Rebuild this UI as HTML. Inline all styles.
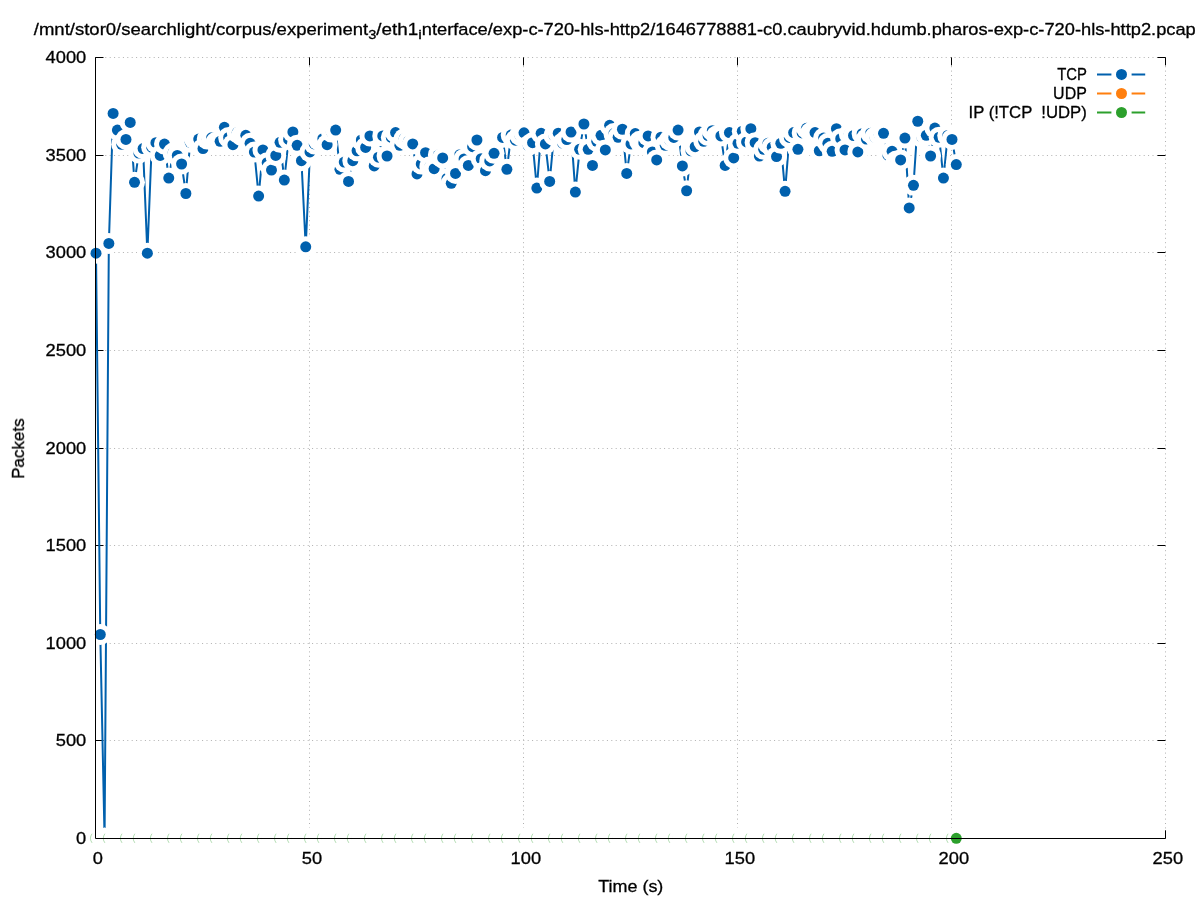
<!DOCTYPE html><html><head><meta charset="utf-8"><style>html,body{margin:0;padding:0;background:#fff;overflow:hidden}svg{display:block}text{font-family:"Liberation Sans",sans-serif;fill:#000;stroke:#000;stroke-width:0.3px}</style></head><body>
<svg width="1197" height="900" viewBox="0 0 1197 900">
<rect width="1197" height="900" fill="#fff"/>
<path d="M96.5 740.5H1165.5 M96.5 643.5H1165.5 M96.5 545.5H1165.5 M96.5 448.5H1165.5 M96.5 350.5H1165.5 M96.5 252.5H1165.5 M96.5 155.5H1165.5 M96.5 57.5H1165.5 M309.5 57.4V837.3 M523.5 57.4V837.3 M737.5 57.4V837.3 M951.5 57.4V837.3 M1165.5 57.4V837.3" stroke="#b0b0b0" stroke-width="1" stroke-dasharray="1 3.4" fill="none"/>
<path d="M95.5 838.5h8M1165.5 838.5h-8M95.5 740.5h8M1165.5 740.5h-8M95.5 643.5h8M1165.5 643.5h-8M95.5 545.5h8M1165.5 545.5h-8M95.5 448.5h8M1165.5 448.5h-8M95.5 350.5h8M1165.5 350.5h-8M95.5 252.5h8M1165.5 252.5h-8M95.5 155.5h8M1165.5 155.5h-8M95.5 57.5h8M1165.5 57.5h-8M95.5 838.3v-8M95.5 57.4v8M309.5 838.3v-8M309.5 57.4v8M523.5 838.3v-8M523.5 57.4v8M737.5 838.3v-8M737.5 57.4v8M951.5 838.3v-8M951.5 57.4v8M1165.5 838.3v-8M1165.5 57.4v8" stroke="#000" stroke-width="1" fill="none"/>
<polyline points="96.00,253.23 100.28,634.49 104.56,838.30 108.84,243.46 113.12,113.45 117.40,130.04 121.68,144.29 125.96,139.41 130.24,122.43 134.52,182.36 138.80,153.08 143.08,148.59 147.36,253.23 151.64,147.22 155.92,142.73 160.20,155.42 164.48,144.10 168.76,178.07 173.04,153.08 177.32,155.42 181.60,164.01 185.88,193.49 190.16,142.34 194.44,139.02 198.72,139.02 203.00,148.59 207.28,139.02 211.56,137.85 215.84,142.34 220.12,141.36 224.40,127.31 228.68,137.46 232.96,144.68 237.24,132.58 241.52,135.51 245.80,135.31 250.08,143.32 254.36,152.10 258.64,196.03 262.92,149.95 267.20,162.64 271.48,170.06 275.76,155.42 280.04,142.34 284.32,180.02 288.60,139.41 292.88,131.99 297.16,145.27 301.44,160.69 305.72,246.78 310.00,151.91 314.28,143.90 318.56,140.00 322.84,138.63 327.12,144.68 331.40,131.99 335.68,130.04 339.96,169.28 344.24,162.06 348.52,181.38 352.80,160.69 357.08,150.74 361.36,140.00 365.64,147.42 369.92,135.90 374.20,165.96 378.48,157.18 382.76,135.90 387.04,156.01 391.32,137.46 395.60,132.58 399.88,145.27 404.16,138.63 408.44,141.36 412.72,143.90 417.00,173.97 421.28,164.01 425.56,152.69 429.84,166.74 434.12,168.70 438.40,155.03 442.68,157.96 446.96,178.46 451.24,183.34 455.52,173.38 459.80,154.64 464.08,158.93 468.36,165.38 472.64,146.64 476.92,140.00 481.20,158.74 485.48,170.65 489.76,160.89 494.04,153.27 498.32,137.46 502.60,137.46 506.88,169.28 511.16,135.12 515.44,140.19 519.72,135.12 524.00,132.77 528.28,145.66 532.56,142.73 536.84,188.02 541.12,133.36 545.40,143.90 549.68,181.38 553.96,135.51 558.24,133.17 562.52,143.12 566.80,139.61 571.08,131.99 575.36,192.12 579.64,149.37 583.92,123.99 588.20,149.37 592.48,165.38 596.76,141.36 601.04,135.31 605.32,149.95 609.60,125.36 613.88,133.56 618.16,137.26 622.44,129.26 626.72,173.38 631.00,143.90 635.28,133.56 639.56,141.36 643.84,142.73 648.12,135.90 652.40,151.91 656.68,159.91 660.96,137.26 665.24,145.27 669.52,140.00 673.80,137.46 678.08,130.04 682.36,165.96 686.64,190.76 690.92,150.74 695.20,146.64 699.48,131.99 703.76,141.36 708.04,135.51 712.32,130.63 716.60,135.90 720.88,135.90 725.16,165.38 729.44,132.58 733.72,157.96 738.00,143.32 742.28,131.21 746.56,141.95 750.84,128.68 755.12,142.73 759.40,156.01 763.68,149.37 767.96,143.32 772.24,147.22 776.52,156.59 780.80,143.32 785.08,191.34 789.36,137.46 793.64,132.58 797.92,149.37 802.20,132.97 806.48,128.28 810.76,132.58 815.04,132.58 819.32,150.74 823.60,138.05 827.88,143.32 832.16,151.32 836.44,128.68 840.72,138.63 845.00,149.95 849.28,133.95 853.56,135.51 857.84,151.91 862.12,133.75 866.40,139.02 870.68,133.17 874.96,137.07 879.24,134.53 883.52,133.36 887.80,155.03 892.08,151.32 896.36,160.89 900.64,159.91 904.92,138.05 909.20,207.93 913.48,185.29 917.76,121.26 922.04,137.46 926.32,135.31 930.60,156.01 934.88,128.09 939.16,137.26 943.44,178.07 947.72,135.51 952.00,139.41 956.28,164.60" stroke="#0060ad" stroke-width="2.0" fill="none" stroke-linejoin="miter"/>
<path d="M96.00 838.30H956.28" stroke="#ff7f0e" stroke-width="2.0"/>
<path d="M96.00 838.30H956.28" stroke="#2ca02c" stroke-width="2.0"/>
<circle cx="96.00" cy="253.23" r="10.5" fill="#fff"/><circle cx="96.00" cy="253.23" r="5.5" fill="#0060ad"/>
<circle cx="100.28" cy="634.49" r="10.5" fill="#fff"/><circle cx="100.28" cy="634.49" r="5.5" fill="#0060ad"/>
<circle cx="104.56" cy="838.30" r="10.5" fill="#fff"/><circle cx="104.56" cy="838.30" r="5.5" fill="#0060ad"/>
<circle cx="108.84" cy="243.46" r="10.5" fill="#fff"/><circle cx="108.84" cy="243.46" r="5.5" fill="#0060ad"/>
<circle cx="113.12" cy="113.45" r="10.5" fill="#fff"/><circle cx="113.12" cy="113.45" r="5.5" fill="#0060ad"/>
<circle cx="117.40" cy="130.04" r="10.5" fill="#fff"/><circle cx="117.40" cy="130.04" r="5.5" fill="#0060ad"/>
<circle cx="121.68" cy="144.29" r="10.5" fill="#fff"/><circle cx="121.68" cy="144.29" r="5.5" fill="#0060ad"/>
<circle cx="125.96" cy="139.41" r="10.5" fill="#fff"/><circle cx="125.96" cy="139.41" r="5.5" fill="#0060ad"/>
<circle cx="130.24" cy="122.43" r="10.5" fill="#fff"/><circle cx="130.24" cy="122.43" r="5.5" fill="#0060ad"/>
<circle cx="134.52" cy="182.36" r="10.5" fill="#fff"/><circle cx="134.52" cy="182.36" r="5.5" fill="#0060ad"/>
<circle cx="138.80" cy="153.08" r="10.5" fill="#fff"/><circle cx="138.80" cy="153.08" r="5.5" fill="#0060ad"/>
<circle cx="143.08" cy="148.59" r="10.5" fill="#fff"/><circle cx="143.08" cy="148.59" r="5.5" fill="#0060ad"/>
<circle cx="147.36" cy="253.23" r="10.5" fill="#fff"/><circle cx="147.36" cy="253.23" r="5.5" fill="#0060ad"/>
<circle cx="151.64" cy="147.22" r="10.5" fill="#fff"/><circle cx="151.64" cy="147.22" r="5.5" fill="#0060ad"/>
<circle cx="155.92" cy="142.73" r="10.5" fill="#fff"/><circle cx="155.92" cy="142.73" r="5.5" fill="#0060ad"/>
<circle cx="160.20" cy="155.42" r="10.5" fill="#fff"/><circle cx="160.20" cy="155.42" r="5.5" fill="#0060ad"/>
<circle cx="164.48" cy="144.10" r="10.5" fill="#fff"/><circle cx="164.48" cy="144.10" r="5.5" fill="#0060ad"/>
<circle cx="168.76" cy="178.07" r="10.5" fill="#fff"/><circle cx="168.76" cy="178.07" r="5.5" fill="#0060ad"/>
<circle cx="173.04" cy="153.08" r="10.5" fill="#fff"/><circle cx="173.04" cy="153.08" r="5.5" fill="#0060ad"/>
<circle cx="177.32" cy="155.42" r="10.5" fill="#fff"/><circle cx="177.32" cy="155.42" r="5.5" fill="#0060ad"/>
<circle cx="181.60" cy="164.01" r="10.5" fill="#fff"/><circle cx="181.60" cy="164.01" r="5.5" fill="#0060ad"/>
<circle cx="185.88" cy="193.49" r="10.5" fill="#fff"/><circle cx="185.88" cy="193.49" r="5.5" fill="#0060ad"/>
<circle cx="190.16" cy="142.34" r="10.5" fill="#fff"/><circle cx="190.16" cy="142.34" r="5.5" fill="#0060ad"/>
<circle cx="194.44" cy="139.02" r="10.5" fill="#fff"/><circle cx="194.44" cy="139.02" r="5.5" fill="#0060ad"/>
<circle cx="198.72" cy="139.02" r="10.5" fill="#fff"/><circle cx="198.72" cy="139.02" r="5.5" fill="#0060ad"/>
<circle cx="203.00" cy="148.59" r="10.5" fill="#fff"/><circle cx="203.00" cy="148.59" r="5.5" fill="#0060ad"/>
<circle cx="207.28" cy="139.02" r="10.5" fill="#fff"/><circle cx="207.28" cy="139.02" r="5.5" fill="#0060ad"/>
<circle cx="211.56" cy="137.85" r="10.5" fill="#fff"/><circle cx="211.56" cy="137.85" r="5.5" fill="#0060ad"/>
<circle cx="215.84" cy="142.34" r="10.5" fill="#fff"/><circle cx="215.84" cy="142.34" r="5.5" fill="#0060ad"/>
<circle cx="220.12" cy="141.36" r="10.5" fill="#fff"/><circle cx="220.12" cy="141.36" r="5.5" fill="#0060ad"/>
<circle cx="224.40" cy="127.31" r="10.5" fill="#fff"/><circle cx="224.40" cy="127.31" r="5.5" fill="#0060ad"/>
<circle cx="228.68" cy="137.46" r="10.5" fill="#fff"/><circle cx="228.68" cy="137.46" r="5.5" fill="#0060ad"/>
<circle cx="232.96" cy="144.68" r="10.5" fill="#fff"/><circle cx="232.96" cy="144.68" r="5.5" fill="#0060ad"/>
<circle cx="237.24" cy="132.58" r="10.5" fill="#fff"/><circle cx="237.24" cy="132.58" r="5.5" fill="#0060ad"/>
<circle cx="241.52" cy="135.51" r="10.5" fill="#fff"/><circle cx="241.52" cy="135.51" r="5.5" fill="#0060ad"/>
<circle cx="245.80" cy="135.31" r="10.5" fill="#fff"/><circle cx="245.80" cy="135.31" r="5.5" fill="#0060ad"/>
<circle cx="250.08" cy="143.32" r="10.5" fill="#fff"/><circle cx="250.08" cy="143.32" r="5.5" fill="#0060ad"/>
<circle cx="254.36" cy="152.10" r="10.5" fill="#fff"/><circle cx="254.36" cy="152.10" r="5.5" fill="#0060ad"/>
<circle cx="258.64" cy="196.03" r="10.5" fill="#fff"/><circle cx="258.64" cy="196.03" r="5.5" fill="#0060ad"/>
<circle cx="262.92" cy="149.95" r="10.5" fill="#fff"/><circle cx="262.92" cy="149.95" r="5.5" fill="#0060ad"/>
<circle cx="267.20" cy="162.64" r="10.5" fill="#fff"/><circle cx="267.20" cy="162.64" r="5.5" fill="#0060ad"/>
<circle cx="271.48" cy="170.06" r="10.5" fill="#fff"/><circle cx="271.48" cy="170.06" r="5.5" fill="#0060ad"/>
<circle cx="275.76" cy="155.42" r="10.5" fill="#fff"/><circle cx="275.76" cy="155.42" r="5.5" fill="#0060ad"/>
<circle cx="280.04" cy="142.34" r="10.5" fill="#fff"/><circle cx="280.04" cy="142.34" r="5.5" fill="#0060ad"/>
<circle cx="284.32" cy="180.02" r="10.5" fill="#fff"/><circle cx="284.32" cy="180.02" r="5.5" fill="#0060ad"/>
<circle cx="288.60" cy="139.41" r="10.5" fill="#fff"/><circle cx="288.60" cy="139.41" r="5.5" fill="#0060ad"/>
<circle cx="292.88" cy="131.99" r="10.5" fill="#fff"/><circle cx="292.88" cy="131.99" r="5.5" fill="#0060ad"/>
<circle cx="297.16" cy="145.27" r="10.5" fill="#fff"/><circle cx="297.16" cy="145.27" r="5.5" fill="#0060ad"/>
<circle cx="301.44" cy="160.69" r="10.5" fill="#fff"/><circle cx="301.44" cy="160.69" r="5.5" fill="#0060ad"/>
<circle cx="305.72" cy="246.78" r="10.5" fill="#fff"/><circle cx="305.72" cy="246.78" r="5.5" fill="#0060ad"/>
<circle cx="310.00" cy="151.91" r="10.5" fill="#fff"/><circle cx="310.00" cy="151.91" r="5.5" fill="#0060ad"/>
<circle cx="314.28" cy="143.90" r="10.5" fill="#fff"/><circle cx="314.28" cy="143.90" r="5.5" fill="#0060ad"/>
<circle cx="318.56" cy="140.00" r="10.5" fill="#fff"/><circle cx="318.56" cy="140.00" r="5.5" fill="#0060ad"/>
<circle cx="322.84" cy="138.63" r="10.5" fill="#fff"/><circle cx="322.84" cy="138.63" r="5.5" fill="#0060ad"/>
<circle cx="327.12" cy="144.68" r="10.5" fill="#fff"/><circle cx="327.12" cy="144.68" r="5.5" fill="#0060ad"/>
<circle cx="331.40" cy="131.99" r="10.5" fill="#fff"/><circle cx="331.40" cy="131.99" r="5.5" fill="#0060ad"/>
<circle cx="335.68" cy="130.04" r="10.5" fill="#fff"/><circle cx="335.68" cy="130.04" r="5.5" fill="#0060ad"/>
<circle cx="339.96" cy="169.28" r="10.5" fill="#fff"/><circle cx="339.96" cy="169.28" r="5.5" fill="#0060ad"/>
<circle cx="344.24" cy="162.06" r="10.5" fill="#fff"/><circle cx="344.24" cy="162.06" r="5.5" fill="#0060ad"/>
<circle cx="348.52" cy="181.38" r="10.5" fill="#fff"/><circle cx="348.52" cy="181.38" r="5.5" fill="#0060ad"/>
<circle cx="352.80" cy="160.69" r="10.5" fill="#fff"/><circle cx="352.80" cy="160.69" r="5.5" fill="#0060ad"/>
<circle cx="357.08" cy="150.74" r="10.5" fill="#fff"/><circle cx="357.08" cy="150.74" r="5.5" fill="#0060ad"/>
<circle cx="361.36" cy="140.00" r="10.5" fill="#fff"/><circle cx="361.36" cy="140.00" r="5.5" fill="#0060ad"/>
<circle cx="365.64" cy="147.42" r="10.5" fill="#fff"/><circle cx="365.64" cy="147.42" r="5.5" fill="#0060ad"/>
<circle cx="369.92" cy="135.90" r="10.5" fill="#fff"/><circle cx="369.92" cy="135.90" r="5.5" fill="#0060ad"/>
<circle cx="374.20" cy="165.96" r="10.5" fill="#fff"/><circle cx="374.20" cy="165.96" r="5.5" fill="#0060ad"/>
<circle cx="378.48" cy="157.18" r="10.5" fill="#fff"/><circle cx="378.48" cy="157.18" r="5.5" fill="#0060ad"/>
<circle cx="382.76" cy="135.90" r="10.5" fill="#fff"/><circle cx="382.76" cy="135.90" r="5.5" fill="#0060ad"/>
<circle cx="387.04" cy="156.01" r="10.5" fill="#fff"/><circle cx="387.04" cy="156.01" r="5.5" fill="#0060ad"/>
<circle cx="391.32" cy="137.46" r="10.5" fill="#fff"/><circle cx="391.32" cy="137.46" r="5.5" fill="#0060ad"/>
<circle cx="395.60" cy="132.58" r="10.5" fill="#fff"/><circle cx="395.60" cy="132.58" r="5.5" fill="#0060ad"/>
<circle cx="399.88" cy="145.27" r="10.5" fill="#fff"/><circle cx="399.88" cy="145.27" r="5.5" fill="#0060ad"/>
<circle cx="404.16" cy="138.63" r="10.5" fill="#fff"/><circle cx="404.16" cy="138.63" r="5.5" fill="#0060ad"/>
<circle cx="408.44" cy="141.36" r="10.5" fill="#fff"/><circle cx="408.44" cy="141.36" r="5.5" fill="#0060ad"/>
<circle cx="412.72" cy="143.90" r="10.5" fill="#fff"/><circle cx="412.72" cy="143.90" r="5.5" fill="#0060ad"/>
<circle cx="417.00" cy="173.97" r="10.5" fill="#fff"/><circle cx="417.00" cy="173.97" r="5.5" fill="#0060ad"/>
<circle cx="421.28" cy="164.01" r="10.5" fill="#fff"/><circle cx="421.28" cy="164.01" r="5.5" fill="#0060ad"/>
<circle cx="425.56" cy="152.69" r="10.5" fill="#fff"/><circle cx="425.56" cy="152.69" r="5.5" fill="#0060ad"/>
<circle cx="429.84" cy="166.74" r="10.5" fill="#fff"/><circle cx="429.84" cy="166.74" r="5.5" fill="#0060ad"/>
<circle cx="434.12" cy="168.70" r="10.5" fill="#fff"/><circle cx="434.12" cy="168.70" r="5.5" fill="#0060ad"/>
<circle cx="438.40" cy="155.03" r="10.5" fill="#fff"/><circle cx="438.40" cy="155.03" r="5.5" fill="#0060ad"/>
<circle cx="442.68" cy="157.96" r="10.5" fill="#fff"/><circle cx="442.68" cy="157.96" r="5.5" fill="#0060ad"/>
<circle cx="446.96" cy="178.46" r="10.5" fill="#fff"/><circle cx="446.96" cy="178.46" r="5.5" fill="#0060ad"/>
<circle cx="451.24" cy="183.34" r="10.5" fill="#fff"/><circle cx="451.24" cy="183.34" r="5.5" fill="#0060ad"/>
<circle cx="455.52" cy="173.38" r="10.5" fill="#fff"/><circle cx="455.52" cy="173.38" r="5.5" fill="#0060ad"/>
<circle cx="459.80" cy="154.64" r="10.5" fill="#fff"/><circle cx="459.80" cy="154.64" r="5.5" fill="#0060ad"/>
<circle cx="464.08" cy="158.93" r="10.5" fill="#fff"/><circle cx="464.08" cy="158.93" r="5.5" fill="#0060ad"/>
<circle cx="468.36" cy="165.38" r="10.5" fill="#fff"/><circle cx="468.36" cy="165.38" r="5.5" fill="#0060ad"/>
<circle cx="472.64" cy="146.64" r="10.5" fill="#fff"/><circle cx="472.64" cy="146.64" r="5.5" fill="#0060ad"/>
<circle cx="476.92" cy="140.00" r="10.5" fill="#fff"/><circle cx="476.92" cy="140.00" r="5.5" fill="#0060ad"/>
<circle cx="481.20" cy="158.74" r="10.5" fill="#fff"/><circle cx="481.20" cy="158.74" r="5.5" fill="#0060ad"/>
<circle cx="485.48" cy="170.65" r="10.5" fill="#fff"/><circle cx="485.48" cy="170.65" r="5.5" fill="#0060ad"/>
<circle cx="489.76" cy="160.89" r="10.5" fill="#fff"/><circle cx="489.76" cy="160.89" r="5.5" fill="#0060ad"/>
<circle cx="494.04" cy="153.27" r="10.5" fill="#fff"/><circle cx="494.04" cy="153.27" r="5.5" fill="#0060ad"/>
<circle cx="498.32" cy="137.46" r="10.5" fill="#fff"/><circle cx="498.32" cy="137.46" r="5.5" fill="#0060ad"/>
<circle cx="502.60" cy="137.46" r="10.5" fill="#fff"/><circle cx="502.60" cy="137.46" r="5.5" fill="#0060ad"/>
<circle cx="506.88" cy="169.28" r="10.5" fill="#fff"/><circle cx="506.88" cy="169.28" r="5.5" fill="#0060ad"/>
<circle cx="511.16" cy="135.12" r="10.5" fill="#fff"/><circle cx="511.16" cy="135.12" r="5.5" fill="#0060ad"/>
<circle cx="515.44" cy="140.19" r="10.5" fill="#fff"/><circle cx="515.44" cy="140.19" r="5.5" fill="#0060ad"/>
<circle cx="519.72" cy="135.12" r="10.5" fill="#fff"/><circle cx="519.72" cy="135.12" r="5.5" fill="#0060ad"/>
<circle cx="524.00" cy="132.77" r="10.5" fill="#fff"/><circle cx="524.00" cy="132.77" r="5.5" fill="#0060ad"/>
<circle cx="528.28" cy="145.66" r="10.5" fill="#fff"/><circle cx="528.28" cy="145.66" r="5.5" fill="#0060ad"/>
<circle cx="532.56" cy="142.73" r="10.5" fill="#fff"/><circle cx="532.56" cy="142.73" r="5.5" fill="#0060ad"/>
<circle cx="536.84" cy="188.02" r="10.5" fill="#fff"/><circle cx="536.84" cy="188.02" r="5.5" fill="#0060ad"/>
<circle cx="541.12" cy="133.36" r="10.5" fill="#fff"/><circle cx="541.12" cy="133.36" r="5.5" fill="#0060ad"/>
<circle cx="545.40" cy="143.90" r="10.5" fill="#fff"/><circle cx="545.40" cy="143.90" r="5.5" fill="#0060ad"/>
<circle cx="549.68" cy="181.38" r="10.5" fill="#fff"/><circle cx="549.68" cy="181.38" r="5.5" fill="#0060ad"/>
<circle cx="553.96" cy="135.51" r="10.5" fill="#fff"/><circle cx="553.96" cy="135.51" r="5.5" fill="#0060ad"/>
<circle cx="558.24" cy="133.17" r="10.5" fill="#fff"/><circle cx="558.24" cy="133.17" r="5.5" fill="#0060ad"/>
<circle cx="562.52" cy="143.12" r="10.5" fill="#fff"/><circle cx="562.52" cy="143.12" r="5.5" fill="#0060ad"/>
<circle cx="566.80" cy="139.61" r="10.5" fill="#fff"/><circle cx="566.80" cy="139.61" r="5.5" fill="#0060ad"/>
<circle cx="571.08" cy="131.99" r="10.5" fill="#fff"/><circle cx="571.08" cy="131.99" r="5.5" fill="#0060ad"/>
<circle cx="575.36" cy="192.12" r="10.5" fill="#fff"/><circle cx="575.36" cy="192.12" r="5.5" fill="#0060ad"/>
<circle cx="579.64" cy="149.37" r="10.5" fill="#fff"/><circle cx="579.64" cy="149.37" r="5.5" fill="#0060ad"/>
<circle cx="583.92" cy="123.99" r="10.5" fill="#fff"/><circle cx="583.92" cy="123.99" r="5.5" fill="#0060ad"/>
<circle cx="588.20" cy="149.37" r="10.5" fill="#fff"/><circle cx="588.20" cy="149.37" r="5.5" fill="#0060ad"/>
<circle cx="592.48" cy="165.38" r="10.5" fill="#fff"/><circle cx="592.48" cy="165.38" r="5.5" fill="#0060ad"/>
<circle cx="596.76" cy="141.36" r="10.5" fill="#fff"/><circle cx="596.76" cy="141.36" r="5.5" fill="#0060ad"/>
<circle cx="601.04" cy="135.31" r="10.5" fill="#fff"/><circle cx="601.04" cy="135.31" r="5.5" fill="#0060ad"/>
<circle cx="605.32" cy="149.95" r="10.5" fill="#fff"/><circle cx="605.32" cy="149.95" r="5.5" fill="#0060ad"/>
<circle cx="609.60" cy="125.36" r="10.5" fill="#fff"/><circle cx="609.60" cy="125.36" r="5.5" fill="#0060ad"/>
<circle cx="613.88" cy="133.56" r="10.5" fill="#fff"/><circle cx="613.88" cy="133.56" r="5.5" fill="#0060ad"/>
<circle cx="618.16" cy="137.26" r="10.5" fill="#fff"/><circle cx="618.16" cy="137.26" r="5.5" fill="#0060ad"/>
<circle cx="622.44" cy="129.26" r="10.5" fill="#fff"/><circle cx="622.44" cy="129.26" r="5.5" fill="#0060ad"/>
<circle cx="626.72" cy="173.38" r="10.5" fill="#fff"/><circle cx="626.72" cy="173.38" r="5.5" fill="#0060ad"/>
<circle cx="631.00" cy="143.90" r="10.5" fill="#fff"/><circle cx="631.00" cy="143.90" r="5.5" fill="#0060ad"/>
<circle cx="635.28" cy="133.56" r="10.5" fill="#fff"/><circle cx="635.28" cy="133.56" r="5.5" fill="#0060ad"/>
<circle cx="639.56" cy="141.36" r="10.5" fill="#fff"/><circle cx="639.56" cy="141.36" r="5.5" fill="#0060ad"/>
<circle cx="643.84" cy="142.73" r="10.5" fill="#fff"/><circle cx="643.84" cy="142.73" r="5.5" fill="#0060ad"/>
<circle cx="648.12" cy="135.90" r="10.5" fill="#fff"/><circle cx="648.12" cy="135.90" r="5.5" fill="#0060ad"/>
<circle cx="652.40" cy="151.91" r="10.5" fill="#fff"/><circle cx="652.40" cy="151.91" r="5.5" fill="#0060ad"/>
<circle cx="656.68" cy="159.91" r="10.5" fill="#fff"/><circle cx="656.68" cy="159.91" r="5.5" fill="#0060ad"/>
<circle cx="660.96" cy="137.26" r="10.5" fill="#fff"/><circle cx="660.96" cy="137.26" r="5.5" fill="#0060ad"/>
<circle cx="665.24" cy="145.27" r="10.5" fill="#fff"/><circle cx="665.24" cy="145.27" r="5.5" fill="#0060ad"/>
<circle cx="669.52" cy="140.00" r="10.5" fill="#fff"/><circle cx="669.52" cy="140.00" r="5.5" fill="#0060ad"/>
<circle cx="673.80" cy="137.46" r="10.5" fill="#fff"/><circle cx="673.80" cy="137.46" r="5.5" fill="#0060ad"/>
<circle cx="678.08" cy="130.04" r="10.5" fill="#fff"/><circle cx="678.08" cy="130.04" r="5.5" fill="#0060ad"/>
<circle cx="682.36" cy="165.96" r="10.5" fill="#fff"/><circle cx="682.36" cy="165.96" r="5.5" fill="#0060ad"/>
<circle cx="686.64" cy="190.76" r="10.5" fill="#fff"/><circle cx="686.64" cy="190.76" r="5.5" fill="#0060ad"/>
<circle cx="690.92" cy="150.74" r="10.5" fill="#fff"/><circle cx="690.92" cy="150.74" r="5.5" fill="#0060ad"/>
<circle cx="695.20" cy="146.64" r="10.5" fill="#fff"/><circle cx="695.20" cy="146.64" r="5.5" fill="#0060ad"/>
<circle cx="699.48" cy="131.99" r="10.5" fill="#fff"/><circle cx="699.48" cy="131.99" r="5.5" fill="#0060ad"/>
<circle cx="703.76" cy="141.36" r="10.5" fill="#fff"/><circle cx="703.76" cy="141.36" r="5.5" fill="#0060ad"/>
<circle cx="708.04" cy="135.51" r="10.5" fill="#fff"/><circle cx="708.04" cy="135.51" r="5.5" fill="#0060ad"/>
<circle cx="712.32" cy="130.63" r="10.5" fill="#fff"/><circle cx="712.32" cy="130.63" r="5.5" fill="#0060ad"/>
<circle cx="716.60" cy="135.90" r="10.5" fill="#fff"/><circle cx="716.60" cy="135.90" r="5.5" fill="#0060ad"/>
<circle cx="720.88" cy="135.90" r="10.5" fill="#fff"/><circle cx="720.88" cy="135.90" r="5.5" fill="#0060ad"/>
<circle cx="725.16" cy="165.38" r="10.5" fill="#fff"/><circle cx="725.16" cy="165.38" r="5.5" fill="#0060ad"/>
<circle cx="729.44" cy="132.58" r="10.5" fill="#fff"/><circle cx="729.44" cy="132.58" r="5.5" fill="#0060ad"/>
<circle cx="733.72" cy="157.96" r="10.5" fill="#fff"/><circle cx="733.72" cy="157.96" r="5.5" fill="#0060ad"/>
<circle cx="738.00" cy="143.32" r="10.5" fill="#fff"/><circle cx="738.00" cy="143.32" r="5.5" fill="#0060ad"/>
<circle cx="742.28" cy="131.21" r="10.5" fill="#fff"/><circle cx="742.28" cy="131.21" r="5.5" fill="#0060ad"/>
<circle cx="746.56" cy="141.95" r="10.5" fill="#fff"/><circle cx="746.56" cy="141.95" r="5.5" fill="#0060ad"/>
<circle cx="750.84" cy="128.68" r="10.5" fill="#fff"/><circle cx="750.84" cy="128.68" r="5.5" fill="#0060ad"/>
<circle cx="755.12" cy="142.73" r="10.5" fill="#fff"/><circle cx="755.12" cy="142.73" r="5.5" fill="#0060ad"/>
<circle cx="759.40" cy="156.01" r="10.5" fill="#fff"/><circle cx="759.40" cy="156.01" r="5.5" fill="#0060ad"/>
<circle cx="763.68" cy="149.37" r="10.5" fill="#fff"/><circle cx="763.68" cy="149.37" r="5.5" fill="#0060ad"/>
<circle cx="767.96" cy="143.32" r="10.5" fill="#fff"/><circle cx="767.96" cy="143.32" r="5.5" fill="#0060ad"/>
<circle cx="772.24" cy="147.22" r="10.5" fill="#fff"/><circle cx="772.24" cy="147.22" r="5.5" fill="#0060ad"/>
<circle cx="776.52" cy="156.59" r="10.5" fill="#fff"/><circle cx="776.52" cy="156.59" r="5.5" fill="#0060ad"/>
<circle cx="780.80" cy="143.32" r="10.5" fill="#fff"/><circle cx="780.80" cy="143.32" r="5.5" fill="#0060ad"/>
<circle cx="785.08" cy="191.34" r="10.5" fill="#fff"/><circle cx="785.08" cy="191.34" r="5.5" fill="#0060ad"/>
<circle cx="789.36" cy="137.46" r="10.5" fill="#fff"/><circle cx="789.36" cy="137.46" r="5.5" fill="#0060ad"/>
<circle cx="793.64" cy="132.58" r="10.5" fill="#fff"/><circle cx="793.64" cy="132.58" r="5.5" fill="#0060ad"/>
<circle cx="797.92" cy="149.37" r="10.5" fill="#fff"/><circle cx="797.92" cy="149.37" r="5.5" fill="#0060ad"/>
<circle cx="802.20" cy="132.97" r="10.5" fill="#fff"/><circle cx="802.20" cy="132.97" r="5.5" fill="#0060ad"/>
<circle cx="806.48" cy="128.28" r="10.5" fill="#fff"/><circle cx="806.48" cy="128.28" r="5.5" fill="#0060ad"/>
<circle cx="810.76" cy="132.58" r="10.5" fill="#fff"/><circle cx="810.76" cy="132.58" r="5.5" fill="#0060ad"/>
<circle cx="815.04" cy="132.58" r="10.5" fill="#fff"/><circle cx="815.04" cy="132.58" r="5.5" fill="#0060ad"/>
<circle cx="819.32" cy="150.74" r="10.5" fill="#fff"/><circle cx="819.32" cy="150.74" r="5.5" fill="#0060ad"/>
<circle cx="823.60" cy="138.05" r="10.5" fill="#fff"/><circle cx="823.60" cy="138.05" r="5.5" fill="#0060ad"/>
<circle cx="827.88" cy="143.32" r="10.5" fill="#fff"/><circle cx="827.88" cy="143.32" r="5.5" fill="#0060ad"/>
<circle cx="832.16" cy="151.32" r="10.5" fill="#fff"/><circle cx="832.16" cy="151.32" r="5.5" fill="#0060ad"/>
<circle cx="836.44" cy="128.68" r="10.5" fill="#fff"/><circle cx="836.44" cy="128.68" r="5.5" fill="#0060ad"/>
<circle cx="840.72" cy="138.63" r="10.5" fill="#fff"/><circle cx="840.72" cy="138.63" r="5.5" fill="#0060ad"/>
<circle cx="845.00" cy="149.95" r="10.5" fill="#fff"/><circle cx="845.00" cy="149.95" r="5.5" fill="#0060ad"/>
<circle cx="849.28" cy="133.95" r="10.5" fill="#fff"/><circle cx="849.28" cy="133.95" r="5.5" fill="#0060ad"/>
<circle cx="853.56" cy="135.51" r="10.5" fill="#fff"/><circle cx="853.56" cy="135.51" r="5.5" fill="#0060ad"/>
<circle cx="857.84" cy="151.91" r="10.5" fill="#fff"/><circle cx="857.84" cy="151.91" r="5.5" fill="#0060ad"/>
<circle cx="862.12" cy="133.75" r="10.5" fill="#fff"/><circle cx="862.12" cy="133.75" r="5.5" fill="#0060ad"/>
<circle cx="866.40" cy="139.02" r="10.5" fill="#fff"/><circle cx="866.40" cy="139.02" r="5.5" fill="#0060ad"/>
<circle cx="870.68" cy="133.17" r="10.5" fill="#fff"/><circle cx="870.68" cy="133.17" r="5.5" fill="#0060ad"/>
<circle cx="874.96" cy="137.07" r="10.5" fill="#fff"/><circle cx="874.96" cy="137.07" r="5.5" fill="#0060ad"/>
<circle cx="879.24" cy="134.53" r="10.5" fill="#fff"/><circle cx="879.24" cy="134.53" r="5.5" fill="#0060ad"/>
<circle cx="883.52" cy="133.36" r="10.5" fill="#fff"/><circle cx="883.52" cy="133.36" r="5.5" fill="#0060ad"/>
<circle cx="887.80" cy="155.03" r="10.5" fill="#fff"/><circle cx="887.80" cy="155.03" r="5.5" fill="#0060ad"/>
<circle cx="892.08" cy="151.32" r="10.5" fill="#fff"/><circle cx="892.08" cy="151.32" r="5.5" fill="#0060ad"/>
<circle cx="896.36" cy="160.89" r="10.5" fill="#fff"/><circle cx="896.36" cy="160.89" r="5.5" fill="#0060ad"/>
<circle cx="900.64" cy="159.91" r="10.5" fill="#fff"/><circle cx="900.64" cy="159.91" r="5.5" fill="#0060ad"/>
<circle cx="904.92" cy="138.05" r="10.5" fill="#fff"/><circle cx="904.92" cy="138.05" r="5.5" fill="#0060ad"/>
<circle cx="909.20" cy="207.93" r="10.5" fill="#fff"/><circle cx="909.20" cy="207.93" r="5.5" fill="#0060ad"/>
<circle cx="913.48" cy="185.29" r="10.5" fill="#fff"/><circle cx="913.48" cy="185.29" r="5.5" fill="#0060ad"/>
<circle cx="917.76" cy="121.26" r="10.5" fill="#fff"/><circle cx="917.76" cy="121.26" r="5.5" fill="#0060ad"/>
<circle cx="922.04" cy="137.46" r="10.5" fill="#fff"/><circle cx="922.04" cy="137.46" r="5.5" fill="#0060ad"/>
<circle cx="926.32" cy="135.31" r="10.5" fill="#fff"/><circle cx="926.32" cy="135.31" r="5.5" fill="#0060ad"/>
<circle cx="930.60" cy="156.01" r="10.5" fill="#fff"/><circle cx="930.60" cy="156.01" r="5.5" fill="#0060ad"/>
<circle cx="934.88" cy="128.09" r="10.5" fill="#fff"/><circle cx="934.88" cy="128.09" r="5.5" fill="#0060ad"/>
<circle cx="939.16" cy="137.26" r="10.5" fill="#fff"/><circle cx="939.16" cy="137.26" r="5.5" fill="#0060ad"/>
<circle cx="943.44" cy="178.07" r="10.5" fill="#fff"/><circle cx="943.44" cy="178.07" r="5.5" fill="#0060ad"/>
<circle cx="947.72" cy="135.51" r="10.5" fill="#fff"/><circle cx="947.72" cy="135.51" r="5.5" fill="#0060ad"/>
<circle cx="952.00" cy="139.41" r="10.5" fill="#fff"/><circle cx="952.00" cy="139.41" r="5.5" fill="#0060ad"/>
<circle cx="956.28" cy="164.60" r="10.5" fill="#fff"/><circle cx="956.28" cy="164.60" r="5.5" fill="#0060ad"/>
<circle cx="96.00" cy="838.3" r="10.5" fill="#fff"/><circle cx="96.00" cy="838.3" r="5.5" fill="#ff7f0e"/>
<circle cx="100.28" cy="838.3" r="10.5" fill="#fff"/><circle cx="100.28" cy="838.3" r="5.5" fill="#ff7f0e"/>
<circle cx="104.56" cy="838.3" r="10.5" fill="#fff"/><circle cx="104.56" cy="838.3" r="5.5" fill="#ff7f0e"/>
<circle cx="108.84" cy="838.3" r="10.5" fill="#fff"/><circle cx="108.84" cy="838.3" r="5.5" fill="#ff7f0e"/>
<circle cx="113.12" cy="838.3" r="10.5" fill="#fff"/><circle cx="113.12" cy="838.3" r="5.5" fill="#ff7f0e"/>
<circle cx="117.40" cy="838.3" r="10.5" fill="#fff"/><circle cx="117.40" cy="838.3" r="5.5" fill="#ff7f0e"/>
<circle cx="121.68" cy="838.3" r="10.5" fill="#fff"/><circle cx="121.68" cy="838.3" r="5.5" fill="#ff7f0e"/>
<circle cx="125.96" cy="838.3" r="10.5" fill="#fff"/><circle cx="125.96" cy="838.3" r="5.5" fill="#ff7f0e"/>
<circle cx="130.24" cy="838.3" r="10.5" fill="#fff"/><circle cx="130.24" cy="838.3" r="5.5" fill="#ff7f0e"/>
<circle cx="134.52" cy="838.3" r="10.5" fill="#fff"/><circle cx="134.52" cy="838.3" r="5.5" fill="#ff7f0e"/>
<circle cx="138.80" cy="838.3" r="10.5" fill="#fff"/><circle cx="138.80" cy="838.3" r="5.5" fill="#ff7f0e"/>
<circle cx="143.08" cy="838.3" r="10.5" fill="#fff"/><circle cx="143.08" cy="838.3" r="5.5" fill="#ff7f0e"/>
<circle cx="147.36" cy="838.3" r="10.5" fill="#fff"/><circle cx="147.36" cy="838.3" r="5.5" fill="#ff7f0e"/>
<circle cx="151.64" cy="838.3" r="10.5" fill="#fff"/><circle cx="151.64" cy="838.3" r="5.5" fill="#ff7f0e"/>
<circle cx="155.92" cy="838.3" r="10.5" fill="#fff"/><circle cx="155.92" cy="838.3" r="5.5" fill="#ff7f0e"/>
<circle cx="160.20" cy="838.3" r="10.5" fill="#fff"/><circle cx="160.20" cy="838.3" r="5.5" fill="#ff7f0e"/>
<circle cx="164.48" cy="838.3" r="10.5" fill="#fff"/><circle cx="164.48" cy="838.3" r="5.5" fill="#ff7f0e"/>
<circle cx="168.76" cy="838.3" r="10.5" fill="#fff"/><circle cx="168.76" cy="838.3" r="5.5" fill="#ff7f0e"/>
<circle cx="173.04" cy="838.3" r="10.5" fill="#fff"/><circle cx="173.04" cy="838.3" r="5.5" fill="#ff7f0e"/>
<circle cx="177.32" cy="838.3" r="10.5" fill="#fff"/><circle cx="177.32" cy="838.3" r="5.5" fill="#ff7f0e"/>
<circle cx="181.60" cy="838.3" r="10.5" fill="#fff"/><circle cx="181.60" cy="838.3" r="5.5" fill="#ff7f0e"/>
<circle cx="185.88" cy="838.3" r="10.5" fill="#fff"/><circle cx="185.88" cy="838.3" r="5.5" fill="#ff7f0e"/>
<circle cx="190.16" cy="838.3" r="10.5" fill="#fff"/><circle cx="190.16" cy="838.3" r="5.5" fill="#ff7f0e"/>
<circle cx="194.44" cy="838.3" r="10.5" fill="#fff"/><circle cx="194.44" cy="838.3" r="5.5" fill="#ff7f0e"/>
<circle cx="198.72" cy="838.3" r="10.5" fill="#fff"/><circle cx="198.72" cy="838.3" r="5.5" fill="#ff7f0e"/>
<circle cx="203.00" cy="838.3" r="10.5" fill="#fff"/><circle cx="203.00" cy="838.3" r="5.5" fill="#ff7f0e"/>
<circle cx="207.28" cy="838.3" r="10.5" fill="#fff"/><circle cx="207.28" cy="838.3" r="5.5" fill="#ff7f0e"/>
<circle cx="211.56" cy="838.3" r="10.5" fill="#fff"/><circle cx="211.56" cy="838.3" r="5.5" fill="#ff7f0e"/>
<circle cx="215.84" cy="838.3" r="10.5" fill="#fff"/><circle cx="215.84" cy="838.3" r="5.5" fill="#ff7f0e"/>
<circle cx="220.12" cy="838.3" r="10.5" fill="#fff"/><circle cx="220.12" cy="838.3" r="5.5" fill="#ff7f0e"/>
<circle cx="224.40" cy="838.3" r="10.5" fill="#fff"/><circle cx="224.40" cy="838.3" r="5.5" fill="#ff7f0e"/>
<circle cx="228.68" cy="838.3" r="10.5" fill="#fff"/><circle cx="228.68" cy="838.3" r="5.5" fill="#ff7f0e"/>
<circle cx="232.96" cy="838.3" r="10.5" fill="#fff"/><circle cx="232.96" cy="838.3" r="5.5" fill="#ff7f0e"/>
<circle cx="237.24" cy="838.3" r="10.5" fill="#fff"/><circle cx="237.24" cy="838.3" r="5.5" fill="#ff7f0e"/>
<circle cx="241.52" cy="838.3" r="10.5" fill="#fff"/><circle cx="241.52" cy="838.3" r="5.5" fill="#ff7f0e"/>
<circle cx="245.80" cy="838.3" r="10.5" fill="#fff"/><circle cx="245.80" cy="838.3" r="5.5" fill="#ff7f0e"/>
<circle cx="250.08" cy="838.3" r="10.5" fill="#fff"/><circle cx="250.08" cy="838.3" r="5.5" fill="#ff7f0e"/>
<circle cx="254.36" cy="838.3" r="10.5" fill="#fff"/><circle cx="254.36" cy="838.3" r="5.5" fill="#ff7f0e"/>
<circle cx="258.64" cy="838.3" r="10.5" fill="#fff"/><circle cx="258.64" cy="838.3" r="5.5" fill="#ff7f0e"/>
<circle cx="262.92" cy="838.3" r="10.5" fill="#fff"/><circle cx="262.92" cy="838.3" r="5.5" fill="#ff7f0e"/>
<circle cx="267.20" cy="838.3" r="10.5" fill="#fff"/><circle cx="267.20" cy="838.3" r="5.5" fill="#ff7f0e"/>
<circle cx="271.48" cy="838.3" r="10.5" fill="#fff"/><circle cx="271.48" cy="838.3" r="5.5" fill="#ff7f0e"/>
<circle cx="275.76" cy="838.3" r="10.5" fill="#fff"/><circle cx="275.76" cy="838.3" r="5.5" fill="#ff7f0e"/>
<circle cx="280.04" cy="838.3" r="10.5" fill="#fff"/><circle cx="280.04" cy="838.3" r="5.5" fill="#ff7f0e"/>
<circle cx="284.32" cy="838.3" r="10.5" fill="#fff"/><circle cx="284.32" cy="838.3" r="5.5" fill="#ff7f0e"/>
<circle cx="288.60" cy="838.3" r="10.5" fill="#fff"/><circle cx="288.60" cy="838.3" r="5.5" fill="#ff7f0e"/>
<circle cx="292.88" cy="838.3" r="10.5" fill="#fff"/><circle cx="292.88" cy="838.3" r="5.5" fill="#ff7f0e"/>
<circle cx="297.16" cy="838.3" r="10.5" fill="#fff"/><circle cx="297.16" cy="838.3" r="5.5" fill="#ff7f0e"/>
<circle cx="301.44" cy="838.3" r="10.5" fill="#fff"/><circle cx="301.44" cy="838.3" r="5.5" fill="#ff7f0e"/>
<circle cx="305.72" cy="838.3" r="10.5" fill="#fff"/><circle cx="305.72" cy="838.3" r="5.5" fill="#ff7f0e"/>
<circle cx="310.00" cy="838.3" r="10.5" fill="#fff"/><circle cx="310.00" cy="838.3" r="5.5" fill="#ff7f0e"/>
<circle cx="314.28" cy="838.3" r="10.5" fill="#fff"/><circle cx="314.28" cy="838.3" r="5.5" fill="#ff7f0e"/>
<circle cx="318.56" cy="838.3" r="10.5" fill="#fff"/><circle cx="318.56" cy="838.3" r="5.5" fill="#ff7f0e"/>
<circle cx="322.84" cy="838.3" r="10.5" fill="#fff"/><circle cx="322.84" cy="838.3" r="5.5" fill="#ff7f0e"/>
<circle cx="327.12" cy="838.3" r="10.5" fill="#fff"/><circle cx="327.12" cy="838.3" r="5.5" fill="#ff7f0e"/>
<circle cx="331.40" cy="838.3" r="10.5" fill="#fff"/><circle cx="331.40" cy="838.3" r="5.5" fill="#ff7f0e"/>
<circle cx="335.68" cy="838.3" r="10.5" fill="#fff"/><circle cx="335.68" cy="838.3" r="5.5" fill="#ff7f0e"/>
<circle cx="339.96" cy="838.3" r="10.5" fill="#fff"/><circle cx="339.96" cy="838.3" r="5.5" fill="#ff7f0e"/>
<circle cx="344.24" cy="838.3" r="10.5" fill="#fff"/><circle cx="344.24" cy="838.3" r="5.5" fill="#ff7f0e"/>
<circle cx="348.52" cy="838.3" r="10.5" fill="#fff"/><circle cx="348.52" cy="838.3" r="5.5" fill="#ff7f0e"/>
<circle cx="352.80" cy="838.3" r="10.5" fill="#fff"/><circle cx="352.80" cy="838.3" r="5.5" fill="#ff7f0e"/>
<circle cx="357.08" cy="838.3" r="10.5" fill="#fff"/><circle cx="357.08" cy="838.3" r="5.5" fill="#ff7f0e"/>
<circle cx="361.36" cy="838.3" r="10.5" fill="#fff"/><circle cx="361.36" cy="838.3" r="5.5" fill="#ff7f0e"/>
<circle cx="365.64" cy="838.3" r="10.5" fill="#fff"/><circle cx="365.64" cy="838.3" r="5.5" fill="#ff7f0e"/>
<circle cx="369.92" cy="838.3" r="10.5" fill="#fff"/><circle cx="369.92" cy="838.3" r="5.5" fill="#ff7f0e"/>
<circle cx="374.20" cy="838.3" r="10.5" fill="#fff"/><circle cx="374.20" cy="838.3" r="5.5" fill="#ff7f0e"/>
<circle cx="378.48" cy="838.3" r="10.5" fill="#fff"/><circle cx="378.48" cy="838.3" r="5.5" fill="#ff7f0e"/>
<circle cx="382.76" cy="838.3" r="10.5" fill="#fff"/><circle cx="382.76" cy="838.3" r="5.5" fill="#ff7f0e"/>
<circle cx="387.04" cy="838.3" r="10.5" fill="#fff"/><circle cx="387.04" cy="838.3" r="5.5" fill="#ff7f0e"/>
<circle cx="391.32" cy="838.3" r="10.5" fill="#fff"/><circle cx="391.32" cy="838.3" r="5.5" fill="#ff7f0e"/>
<circle cx="395.60" cy="838.3" r="10.5" fill="#fff"/><circle cx="395.60" cy="838.3" r="5.5" fill="#ff7f0e"/>
<circle cx="399.88" cy="838.3" r="10.5" fill="#fff"/><circle cx="399.88" cy="838.3" r="5.5" fill="#ff7f0e"/>
<circle cx="404.16" cy="838.3" r="10.5" fill="#fff"/><circle cx="404.16" cy="838.3" r="5.5" fill="#ff7f0e"/>
<circle cx="408.44" cy="838.3" r="10.5" fill="#fff"/><circle cx="408.44" cy="838.3" r="5.5" fill="#ff7f0e"/>
<circle cx="412.72" cy="838.3" r="10.5" fill="#fff"/><circle cx="412.72" cy="838.3" r="5.5" fill="#ff7f0e"/>
<circle cx="417.00" cy="838.3" r="10.5" fill="#fff"/><circle cx="417.00" cy="838.3" r="5.5" fill="#ff7f0e"/>
<circle cx="421.28" cy="838.3" r="10.5" fill="#fff"/><circle cx="421.28" cy="838.3" r="5.5" fill="#ff7f0e"/>
<circle cx="425.56" cy="838.3" r="10.5" fill="#fff"/><circle cx="425.56" cy="838.3" r="5.5" fill="#ff7f0e"/>
<circle cx="429.84" cy="838.3" r="10.5" fill="#fff"/><circle cx="429.84" cy="838.3" r="5.5" fill="#ff7f0e"/>
<circle cx="434.12" cy="838.3" r="10.5" fill="#fff"/><circle cx="434.12" cy="838.3" r="5.5" fill="#ff7f0e"/>
<circle cx="438.40" cy="838.3" r="10.5" fill="#fff"/><circle cx="438.40" cy="838.3" r="5.5" fill="#ff7f0e"/>
<circle cx="442.68" cy="838.3" r="10.5" fill="#fff"/><circle cx="442.68" cy="838.3" r="5.5" fill="#ff7f0e"/>
<circle cx="446.96" cy="838.3" r="10.5" fill="#fff"/><circle cx="446.96" cy="838.3" r="5.5" fill="#ff7f0e"/>
<circle cx="451.24" cy="838.3" r="10.5" fill="#fff"/><circle cx="451.24" cy="838.3" r="5.5" fill="#ff7f0e"/>
<circle cx="455.52" cy="838.3" r="10.5" fill="#fff"/><circle cx="455.52" cy="838.3" r="5.5" fill="#ff7f0e"/>
<circle cx="459.80" cy="838.3" r="10.5" fill="#fff"/><circle cx="459.80" cy="838.3" r="5.5" fill="#ff7f0e"/>
<circle cx="464.08" cy="838.3" r="10.5" fill="#fff"/><circle cx="464.08" cy="838.3" r="5.5" fill="#ff7f0e"/>
<circle cx="468.36" cy="838.3" r="10.5" fill="#fff"/><circle cx="468.36" cy="838.3" r="5.5" fill="#ff7f0e"/>
<circle cx="472.64" cy="838.3" r="10.5" fill="#fff"/><circle cx="472.64" cy="838.3" r="5.5" fill="#ff7f0e"/>
<circle cx="476.92" cy="838.3" r="10.5" fill="#fff"/><circle cx="476.92" cy="838.3" r="5.5" fill="#ff7f0e"/>
<circle cx="481.20" cy="838.3" r="10.5" fill="#fff"/><circle cx="481.20" cy="838.3" r="5.5" fill="#ff7f0e"/>
<circle cx="485.48" cy="838.3" r="10.5" fill="#fff"/><circle cx="485.48" cy="838.3" r="5.5" fill="#ff7f0e"/>
<circle cx="489.76" cy="838.3" r="10.5" fill="#fff"/><circle cx="489.76" cy="838.3" r="5.5" fill="#ff7f0e"/>
<circle cx="494.04" cy="838.3" r="10.5" fill="#fff"/><circle cx="494.04" cy="838.3" r="5.5" fill="#ff7f0e"/>
<circle cx="498.32" cy="838.3" r="10.5" fill="#fff"/><circle cx="498.32" cy="838.3" r="5.5" fill="#ff7f0e"/>
<circle cx="502.60" cy="838.3" r="10.5" fill="#fff"/><circle cx="502.60" cy="838.3" r="5.5" fill="#ff7f0e"/>
<circle cx="506.88" cy="838.3" r="10.5" fill="#fff"/><circle cx="506.88" cy="838.3" r="5.5" fill="#ff7f0e"/>
<circle cx="511.16" cy="838.3" r="10.5" fill="#fff"/><circle cx="511.16" cy="838.3" r="5.5" fill="#ff7f0e"/>
<circle cx="515.44" cy="838.3" r="10.5" fill="#fff"/><circle cx="515.44" cy="838.3" r="5.5" fill="#ff7f0e"/>
<circle cx="519.72" cy="838.3" r="10.5" fill="#fff"/><circle cx="519.72" cy="838.3" r="5.5" fill="#ff7f0e"/>
<circle cx="524.00" cy="838.3" r="10.5" fill="#fff"/><circle cx="524.00" cy="838.3" r="5.5" fill="#ff7f0e"/>
<circle cx="528.28" cy="838.3" r="10.5" fill="#fff"/><circle cx="528.28" cy="838.3" r="5.5" fill="#ff7f0e"/>
<circle cx="532.56" cy="838.3" r="10.5" fill="#fff"/><circle cx="532.56" cy="838.3" r="5.5" fill="#ff7f0e"/>
<circle cx="536.84" cy="838.3" r="10.5" fill="#fff"/><circle cx="536.84" cy="838.3" r="5.5" fill="#ff7f0e"/>
<circle cx="541.12" cy="838.3" r="10.5" fill="#fff"/><circle cx="541.12" cy="838.3" r="5.5" fill="#ff7f0e"/>
<circle cx="545.40" cy="838.3" r="10.5" fill="#fff"/><circle cx="545.40" cy="838.3" r="5.5" fill="#ff7f0e"/>
<circle cx="549.68" cy="838.3" r="10.5" fill="#fff"/><circle cx="549.68" cy="838.3" r="5.5" fill="#ff7f0e"/>
<circle cx="553.96" cy="838.3" r="10.5" fill="#fff"/><circle cx="553.96" cy="838.3" r="5.5" fill="#ff7f0e"/>
<circle cx="558.24" cy="838.3" r="10.5" fill="#fff"/><circle cx="558.24" cy="838.3" r="5.5" fill="#ff7f0e"/>
<circle cx="562.52" cy="838.3" r="10.5" fill="#fff"/><circle cx="562.52" cy="838.3" r="5.5" fill="#ff7f0e"/>
<circle cx="566.80" cy="838.3" r="10.5" fill="#fff"/><circle cx="566.80" cy="838.3" r="5.5" fill="#ff7f0e"/>
<circle cx="571.08" cy="838.3" r="10.5" fill="#fff"/><circle cx="571.08" cy="838.3" r="5.5" fill="#ff7f0e"/>
<circle cx="575.36" cy="838.3" r="10.5" fill="#fff"/><circle cx="575.36" cy="838.3" r="5.5" fill="#ff7f0e"/>
<circle cx="579.64" cy="838.3" r="10.5" fill="#fff"/><circle cx="579.64" cy="838.3" r="5.5" fill="#ff7f0e"/>
<circle cx="583.92" cy="838.3" r="10.5" fill="#fff"/><circle cx="583.92" cy="838.3" r="5.5" fill="#ff7f0e"/>
<circle cx="588.20" cy="838.3" r="10.5" fill="#fff"/><circle cx="588.20" cy="838.3" r="5.5" fill="#ff7f0e"/>
<circle cx="592.48" cy="838.3" r="10.5" fill="#fff"/><circle cx="592.48" cy="838.3" r="5.5" fill="#ff7f0e"/>
<circle cx="596.76" cy="838.3" r="10.5" fill="#fff"/><circle cx="596.76" cy="838.3" r="5.5" fill="#ff7f0e"/>
<circle cx="601.04" cy="838.3" r="10.5" fill="#fff"/><circle cx="601.04" cy="838.3" r="5.5" fill="#ff7f0e"/>
<circle cx="605.32" cy="838.3" r="10.5" fill="#fff"/><circle cx="605.32" cy="838.3" r="5.5" fill="#ff7f0e"/>
<circle cx="609.60" cy="838.3" r="10.5" fill="#fff"/><circle cx="609.60" cy="838.3" r="5.5" fill="#ff7f0e"/>
<circle cx="613.88" cy="838.3" r="10.5" fill="#fff"/><circle cx="613.88" cy="838.3" r="5.5" fill="#ff7f0e"/>
<circle cx="618.16" cy="838.3" r="10.5" fill="#fff"/><circle cx="618.16" cy="838.3" r="5.5" fill="#ff7f0e"/>
<circle cx="622.44" cy="838.3" r="10.5" fill="#fff"/><circle cx="622.44" cy="838.3" r="5.5" fill="#ff7f0e"/>
<circle cx="626.72" cy="838.3" r="10.5" fill="#fff"/><circle cx="626.72" cy="838.3" r="5.5" fill="#ff7f0e"/>
<circle cx="631.00" cy="838.3" r="10.5" fill="#fff"/><circle cx="631.00" cy="838.3" r="5.5" fill="#ff7f0e"/>
<circle cx="635.28" cy="838.3" r="10.5" fill="#fff"/><circle cx="635.28" cy="838.3" r="5.5" fill="#ff7f0e"/>
<circle cx="639.56" cy="838.3" r="10.5" fill="#fff"/><circle cx="639.56" cy="838.3" r="5.5" fill="#ff7f0e"/>
<circle cx="643.84" cy="838.3" r="10.5" fill="#fff"/><circle cx="643.84" cy="838.3" r="5.5" fill="#ff7f0e"/>
<circle cx="648.12" cy="838.3" r="10.5" fill="#fff"/><circle cx="648.12" cy="838.3" r="5.5" fill="#ff7f0e"/>
<circle cx="652.40" cy="838.3" r="10.5" fill="#fff"/><circle cx="652.40" cy="838.3" r="5.5" fill="#ff7f0e"/>
<circle cx="656.68" cy="838.3" r="10.5" fill="#fff"/><circle cx="656.68" cy="838.3" r="5.5" fill="#ff7f0e"/>
<circle cx="660.96" cy="838.3" r="10.5" fill="#fff"/><circle cx="660.96" cy="838.3" r="5.5" fill="#ff7f0e"/>
<circle cx="665.24" cy="838.3" r="10.5" fill="#fff"/><circle cx="665.24" cy="838.3" r="5.5" fill="#ff7f0e"/>
<circle cx="669.52" cy="838.3" r="10.5" fill="#fff"/><circle cx="669.52" cy="838.3" r="5.5" fill="#ff7f0e"/>
<circle cx="673.80" cy="838.3" r="10.5" fill="#fff"/><circle cx="673.80" cy="838.3" r="5.5" fill="#ff7f0e"/>
<circle cx="678.08" cy="838.3" r="10.5" fill="#fff"/><circle cx="678.08" cy="838.3" r="5.5" fill="#ff7f0e"/>
<circle cx="682.36" cy="838.3" r="10.5" fill="#fff"/><circle cx="682.36" cy="838.3" r="5.5" fill="#ff7f0e"/>
<circle cx="686.64" cy="838.3" r="10.5" fill="#fff"/><circle cx="686.64" cy="838.3" r="5.5" fill="#ff7f0e"/>
<circle cx="690.92" cy="838.3" r="10.5" fill="#fff"/><circle cx="690.92" cy="838.3" r="5.5" fill="#ff7f0e"/>
<circle cx="695.20" cy="838.3" r="10.5" fill="#fff"/><circle cx="695.20" cy="838.3" r="5.5" fill="#ff7f0e"/>
<circle cx="699.48" cy="838.3" r="10.5" fill="#fff"/><circle cx="699.48" cy="838.3" r="5.5" fill="#ff7f0e"/>
<circle cx="703.76" cy="838.3" r="10.5" fill="#fff"/><circle cx="703.76" cy="838.3" r="5.5" fill="#ff7f0e"/>
<circle cx="708.04" cy="838.3" r="10.5" fill="#fff"/><circle cx="708.04" cy="838.3" r="5.5" fill="#ff7f0e"/>
<circle cx="712.32" cy="838.3" r="10.5" fill="#fff"/><circle cx="712.32" cy="838.3" r="5.5" fill="#ff7f0e"/>
<circle cx="716.60" cy="838.3" r="10.5" fill="#fff"/><circle cx="716.60" cy="838.3" r="5.5" fill="#ff7f0e"/>
<circle cx="720.88" cy="838.3" r="10.5" fill="#fff"/><circle cx="720.88" cy="838.3" r="5.5" fill="#ff7f0e"/>
<circle cx="725.16" cy="838.3" r="10.5" fill="#fff"/><circle cx="725.16" cy="838.3" r="5.5" fill="#ff7f0e"/>
<circle cx="729.44" cy="838.3" r="10.5" fill="#fff"/><circle cx="729.44" cy="838.3" r="5.5" fill="#ff7f0e"/>
<circle cx="733.72" cy="838.3" r="10.5" fill="#fff"/><circle cx="733.72" cy="838.3" r="5.5" fill="#ff7f0e"/>
<circle cx="738.00" cy="838.3" r="10.5" fill="#fff"/><circle cx="738.00" cy="838.3" r="5.5" fill="#ff7f0e"/>
<circle cx="742.28" cy="838.3" r="10.5" fill="#fff"/><circle cx="742.28" cy="838.3" r="5.5" fill="#ff7f0e"/>
<circle cx="746.56" cy="838.3" r="10.5" fill="#fff"/><circle cx="746.56" cy="838.3" r="5.5" fill="#ff7f0e"/>
<circle cx="750.84" cy="838.3" r="10.5" fill="#fff"/><circle cx="750.84" cy="838.3" r="5.5" fill="#ff7f0e"/>
<circle cx="755.12" cy="838.3" r="10.5" fill="#fff"/><circle cx="755.12" cy="838.3" r="5.5" fill="#ff7f0e"/>
<circle cx="759.40" cy="838.3" r="10.5" fill="#fff"/><circle cx="759.40" cy="838.3" r="5.5" fill="#ff7f0e"/>
<circle cx="763.68" cy="838.3" r="10.5" fill="#fff"/><circle cx="763.68" cy="838.3" r="5.5" fill="#ff7f0e"/>
<circle cx="767.96" cy="838.3" r="10.5" fill="#fff"/><circle cx="767.96" cy="838.3" r="5.5" fill="#ff7f0e"/>
<circle cx="772.24" cy="838.3" r="10.5" fill="#fff"/><circle cx="772.24" cy="838.3" r="5.5" fill="#ff7f0e"/>
<circle cx="776.52" cy="838.3" r="10.5" fill="#fff"/><circle cx="776.52" cy="838.3" r="5.5" fill="#ff7f0e"/>
<circle cx="780.80" cy="838.3" r="10.5" fill="#fff"/><circle cx="780.80" cy="838.3" r="5.5" fill="#ff7f0e"/>
<circle cx="785.08" cy="838.3" r="10.5" fill="#fff"/><circle cx="785.08" cy="838.3" r="5.5" fill="#ff7f0e"/>
<circle cx="789.36" cy="838.3" r="10.5" fill="#fff"/><circle cx="789.36" cy="838.3" r="5.5" fill="#ff7f0e"/>
<circle cx="793.64" cy="838.3" r="10.5" fill="#fff"/><circle cx="793.64" cy="838.3" r="5.5" fill="#ff7f0e"/>
<circle cx="797.92" cy="838.3" r="10.5" fill="#fff"/><circle cx="797.92" cy="838.3" r="5.5" fill="#ff7f0e"/>
<circle cx="802.20" cy="838.3" r="10.5" fill="#fff"/><circle cx="802.20" cy="838.3" r="5.5" fill="#ff7f0e"/>
<circle cx="806.48" cy="838.3" r="10.5" fill="#fff"/><circle cx="806.48" cy="838.3" r="5.5" fill="#ff7f0e"/>
<circle cx="810.76" cy="838.3" r="10.5" fill="#fff"/><circle cx="810.76" cy="838.3" r="5.5" fill="#ff7f0e"/>
<circle cx="815.04" cy="838.3" r="10.5" fill="#fff"/><circle cx="815.04" cy="838.3" r="5.5" fill="#ff7f0e"/>
<circle cx="819.32" cy="838.3" r="10.5" fill="#fff"/><circle cx="819.32" cy="838.3" r="5.5" fill="#ff7f0e"/>
<circle cx="823.60" cy="838.3" r="10.5" fill="#fff"/><circle cx="823.60" cy="838.3" r="5.5" fill="#ff7f0e"/>
<circle cx="827.88" cy="838.3" r="10.5" fill="#fff"/><circle cx="827.88" cy="838.3" r="5.5" fill="#ff7f0e"/>
<circle cx="832.16" cy="838.3" r="10.5" fill="#fff"/><circle cx="832.16" cy="838.3" r="5.5" fill="#ff7f0e"/>
<circle cx="836.44" cy="838.3" r="10.5" fill="#fff"/><circle cx="836.44" cy="838.3" r="5.5" fill="#ff7f0e"/>
<circle cx="840.72" cy="838.3" r="10.5" fill="#fff"/><circle cx="840.72" cy="838.3" r="5.5" fill="#ff7f0e"/>
<circle cx="845.00" cy="838.3" r="10.5" fill="#fff"/><circle cx="845.00" cy="838.3" r="5.5" fill="#ff7f0e"/>
<circle cx="849.28" cy="838.3" r="10.5" fill="#fff"/><circle cx="849.28" cy="838.3" r="5.5" fill="#ff7f0e"/>
<circle cx="853.56" cy="838.3" r="10.5" fill="#fff"/><circle cx="853.56" cy="838.3" r="5.5" fill="#ff7f0e"/>
<circle cx="857.84" cy="838.3" r="10.5" fill="#fff"/><circle cx="857.84" cy="838.3" r="5.5" fill="#ff7f0e"/>
<circle cx="862.12" cy="838.3" r="10.5" fill="#fff"/><circle cx="862.12" cy="838.3" r="5.5" fill="#ff7f0e"/>
<circle cx="866.40" cy="838.3" r="10.5" fill="#fff"/><circle cx="866.40" cy="838.3" r="5.5" fill="#ff7f0e"/>
<circle cx="870.68" cy="838.3" r="10.5" fill="#fff"/><circle cx="870.68" cy="838.3" r="5.5" fill="#ff7f0e"/>
<circle cx="874.96" cy="838.3" r="10.5" fill="#fff"/><circle cx="874.96" cy="838.3" r="5.5" fill="#ff7f0e"/>
<circle cx="879.24" cy="838.3" r="10.5" fill="#fff"/><circle cx="879.24" cy="838.3" r="5.5" fill="#ff7f0e"/>
<circle cx="883.52" cy="838.3" r="10.5" fill="#fff"/><circle cx="883.52" cy="838.3" r="5.5" fill="#ff7f0e"/>
<circle cx="887.80" cy="838.3" r="10.5" fill="#fff"/><circle cx="887.80" cy="838.3" r="5.5" fill="#ff7f0e"/>
<circle cx="892.08" cy="838.3" r="10.5" fill="#fff"/><circle cx="892.08" cy="838.3" r="5.5" fill="#ff7f0e"/>
<circle cx="896.36" cy="838.3" r="10.5" fill="#fff"/><circle cx="896.36" cy="838.3" r="5.5" fill="#ff7f0e"/>
<circle cx="900.64" cy="838.3" r="10.5" fill="#fff"/><circle cx="900.64" cy="838.3" r="5.5" fill="#ff7f0e"/>
<circle cx="904.92" cy="838.3" r="10.5" fill="#fff"/><circle cx="904.92" cy="838.3" r="5.5" fill="#ff7f0e"/>
<circle cx="909.20" cy="838.3" r="10.5" fill="#fff"/><circle cx="909.20" cy="838.3" r="5.5" fill="#ff7f0e"/>
<circle cx="913.48" cy="838.3" r="10.5" fill="#fff"/><circle cx="913.48" cy="838.3" r="5.5" fill="#ff7f0e"/>
<circle cx="917.76" cy="838.3" r="10.5" fill="#fff"/><circle cx="917.76" cy="838.3" r="5.5" fill="#ff7f0e"/>
<circle cx="922.04" cy="838.3" r="10.5" fill="#fff"/><circle cx="922.04" cy="838.3" r="5.5" fill="#ff7f0e"/>
<circle cx="926.32" cy="838.3" r="10.5" fill="#fff"/><circle cx="926.32" cy="838.3" r="5.5" fill="#ff7f0e"/>
<circle cx="930.60" cy="838.3" r="10.5" fill="#fff"/><circle cx="930.60" cy="838.3" r="5.5" fill="#ff7f0e"/>
<circle cx="934.88" cy="838.3" r="10.5" fill="#fff"/><circle cx="934.88" cy="838.3" r="5.5" fill="#ff7f0e"/>
<circle cx="939.16" cy="838.3" r="10.5" fill="#fff"/><circle cx="939.16" cy="838.3" r="5.5" fill="#ff7f0e"/>
<circle cx="943.44" cy="838.3" r="10.5" fill="#fff"/><circle cx="943.44" cy="838.3" r="5.5" fill="#ff7f0e"/>
<circle cx="947.72" cy="838.3" r="10.5" fill="#fff"/><circle cx="947.72" cy="838.3" r="5.5" fill="#ff7f0e"/>
<circle cx="952.00" cy="838.3" r="10.5" fill="#fff"/><circle cx="952.00" cy="838.3" r="5.5" fill="#ff7f0e"/>
<circle cx="956.28" cy="838.3" r="10.5" fill="#fff"/><circle cx="956.28" cy="838.3" r="5.5" fill="#ff7f0e"/>
<circle cx="96.00" cy="838.3" r="10.5" fill="#fff"/><circle cx="96.00" cy="838.3" r="5.5" fill="#2ca02c"/>
<circle cx="100.28" cy="838.3" r="10.5" fill="#fff"/><circle cx="100.28" cy="838.3" r="5.5" fill="#2ca02c"/>
<circle cx="104.56" cy="838.3" r="10.5" fill="#fff"/><circle cx="104.56" cy="838.3" r="5.5" fill="#2ca02c"/>
<circle cx="108.84" cy="838.3" r="10.5" fill="#fff"/><circle cx="108.84" cy="838.3" r="5.5" fill="#2ca02c"/>
<circle cx="113.12" cy="838.3" r="10.5" fill="#fff"/><circle cx="113.12" cy="838.3" r="5.5" fill="#2ca02c"/>
<circle cx="117.40" cy="838.3" r="10.5" fill="#fff"/><circle cx="117.40" cy="838.3" r="5.5" fill="#2ca02c"/>
<circle cx="121.68" cy="838.3" r="10.5" fill="#fff"/><circle cx="121.68" cy="838.3" r="5.5" fill="#2ca02c"/>
<circle cx="125.96" cy="838.3" r="10.5" fill="#fff"/><circle cx="125.96" cy="838.3" r="5.5" fill="#2ca02c"/>
<circle cx="130.24" cy="838.3" r="10.5" fill="#fff"/><circle cx="130.24" cy="838.3" r="5.5" fill="#2ca02c"/>
<circle cx="134.52" cy="838.3" r="10.5" fill="#fff"/><circle cx="134.52" cy="838.3" r="5.5" fill="#2ca02c"/>
<circle cx="138.80" cy="838.3" r="10.5" fill="#fff"/><circle cx="138.80" cy="838.3" r="5.5" fill="#2ca02c"/>
<circle cx="143.08" cy="838.3" r="10.5" fill="#fff"/><circle cx="143.08" cy="838.3" r="5.5" fill="#2ca02c"/>
<circle cx="147.36" cy="838.3" r="10.5" fill="#fff"/><circle cx="147.36" cy="838.3" r="5.5" fill="#2ca02c"/>
<circle cx="151.64" cy="838.3" r="10.5" fill="#fff"/><circle cx="151.64" cy="838.3" r="5.5" fill="#2ca02c"/>
<circle cx="155.92" cy="838.3" r="10.5" fill="#fff"/><circle cx="155.92" cy="838.3" r="5.5" fill="#2ca02c"/>
<circle cx="160.20" cy="838.3" r="10.5" fill="#fff"/><circle cx="160.20" cy="838.3" r="5.5" fill="#2ca02c"/>
<circle cx="164.48" cy="838.3" r="10.5" fill="#fff"/><circle cx="164.48" cy="838.3" r="5.5" fill="#2ca02c"/>
<circle cx="168.76" cy="838.3" r="10.5" fill="#fff"/><circle cx="168.76" cy="838.3" r="5.5" fill="#2ca02c"/>
<circle cx="173.04" cy="838.3" r="10.5" fill="#fff"/><circle cx="173.04" cy="838.3" r="5.5" fill="#2ca02c"/>
<circle cx="177.32" cy="838.3" r="10.5" fill="#fff"/><circle cx="177.32" cy="838.3" r="5.5" fill="#2ca02c"/>
<circle cx="181.60" cy="838.3" r="10.5" fill="#fff"/><circle cx="181.60" cy="838.3" r="5.5" fill="#2ca02c"/>
<circle cx="185.88" cy="838.3" r="10.5" fill="#fff"/><circle cx="185.88" cy="838.3" r="5.5" fill="#2ca02c"/>
<circle cx="190.16" cy="838.3" r="10.5" fill="#fff"/><circle cx="190.16" cy="838.3" r="5.5" fill="#2ca02c"/>
<circle cx="194.44" cy="838.3" r="10.5" fill="#fff"/><circle cx="194.44" cy="838.3" r="5.5" fill="#2ca02c"/>
<circle cx="198.72" cy="838.3" r="10.5" fill="#fff"/><circle cx="198.72" cy="838.3" r="5.5" fill="#2ca02c"/>
<circle cx="203.00" cy="838.3" r="10.5" fill="#fff"/><circle cx="203.00" cy="838.3" r="5.5" fill="#2ca02c"/>
<circle cx="207.28" cy="838.3" r="10.5" fill="#fff"/><circle cx="207.28" cy="838.3" r="5.5" fill="#2ca02c"/>
<circle cx="211.56" cy="838.3" r="10.5" fill="#fff"/><circle cx="211.56" cy="838.3" r="5.5" fill="#2ca02c"/>
<circle cx="215.84" cy="838.3" r="10.5" fill="#fff"/><circle cx="215.84" cy="838.3" r="5.5" fill="#2ca02c"/>
<circle cx="220.12" cy="838.3" r="10.5" fill="#fff"/><circle cx="220.12" cy="838.3" r="5.5" fill="#2ca02c"/>
<circle cx="224.40" cy="838.3" r="10.5" fill="#fff"/><circle cx="224.40" cy="838.3" r="5.5" fill="#2ca02c"/>
<circle cx="228.68" cy="838.3" r="10.5" fill="#fff"/><circle cx="228.68" cy="838.3" r="5.5" fill="#2ca02c"/>
<circle cx="232.96" cy="838.3" r="10.5" fill="#fff"/><circle cx="232.96" cy="838.3" r="5.5" fill="#2ca02c"/>
<circle cx="237.24" cy="838.3" r="10.5" fill="#fff"/><circle cx="237.24" cy="838.3" r="5.5" fill="#2ca02c"/>
<circle cx="241.52" cy="838.3" r="10.5" fill="#fff"/><circle cx="241.52" cy="838.3" r="5.5" fill="#2ca02c"/>
<circle cx="245.80" cy="838.3" r="10.5" fill="#fff"/><circle cx="245.80" cy="838.3" r="5.5" fill="#2ca02c"/>
<circle cx="250.08" cy="838.3" r="10.5" fill="#fff"/><circle cx="250.08" cy="838.3" r="5.5" fill="#2ca02c"/>
<circle cx="254.36" cy="838.3" r="10.5" fill="#fff"/><circle cx="254.36" cy="838.3" r="5.5" fill="#2ca02c"/>
<circle cx="258.64" cy="838.3" r="10.5" fill="#fff"/><circle cx="258.64" cy="838.3" r="5.5" fill="#2ca02c"/>
<circle cx="262.92" cy="838.3" r="10.5" fill="#fff"/><circle cx="262.92" cy="838.3" r="5.5" fill="#2ca02c"/>
<circle cx="267.20" cy="838.3" r="10.5" fill="#fff"/><circle cx="267.20" cy="838.3" r="5.5" fill="#2ca02c"/>
<circle cx="271.48" cy="838.3" r="10.5" fill="#fff"/><circle cx="271.48" cy="838.3" r="5.5" fill="#2ca02c"/>
<circle cx="275.76" cy="838.3" r="10.5" fill="#fff"/><circle cx="275.76" cy="838.3" r="5.5" fill="#2ca02c"/>
<circle cx="280.04" cy="838.3" r="10.5" fill="#fff"/><circle cx="280.04" cy="838.3" r="5.5" fill="#2ca02c"/>
<circle cx="284.32" cy="838.3" r="10.5" fill="#fff"/><circle cx="284.32" cy="838.3" r="5.5" fill="#2ca02c"/>
<circle cx="288.60" cy="838.3" r="10.5" fill="#fff"/><circle cx="288.60" cy="838.3" r="5.5" fill="#2ca02c"/>
<circle cx="292.88" cy="838.3" r="10.5" fill="#fff"/><circle cx="292.88" cy="838.3" r="5.5" fill="#2ca02c"/>
<circle cx="297.16" cy="838.3" r="10.5" fill="#fff"/><circle cx="297.16" cy="838.3" r="5.5" fill="#2ca02c"/>
<circle cx="301.44" cy="838.3" r="10.5" fill="#fff"/><circle cx="301.44" cy="838.3" r="5.5" fill="#2ca02c"/>
<circle cx="305.72" cy="838.3" r="10.5" fill="#fff"/><circle cx="305.72" cy="838.3" r="5.5" fill="#2ca02c"/>
<circle cx="310.00" cy="838.3" r="10.5" fill="#fff"/><circle cx="310.00" cy="838.3" r="5.5" fill="#2ca02c"/>
<circle cx="314.28" cy="838.3" r="10.5" fill="#fff"/><circle cx="314.28" cy="838.3" r="5.5" fill="#2ca02c"/>
<circle cx="318.56" cy="838.3" r="10.5" fill="#fff"/><circle cx="318.56" cy="838.3" r="5.5" fill="#2ca02c"/>
<circle cx="322.84" cy="838.3" r="10.5" fill="#fff"/><circle cx="322.84" cy="838.3" r="5.5" fill="#2ca02c"/>
<circle cx="327.12" cy="838.3" r="10.5" fill="#fff"/><circle cx="327.12" cy="838.3" r="5.5" fill="#2ca02c"/>
<circle cx="331.40" cy="838.3" r="10.5" fill="#fff"/><circle cx="331.40" cy="838.3" r="5.5" fill="#2ca02c"/>
<circle cx="335.68" cy="838.3" r="10.5" fill="#fff"/><circle cx="335.68" cy="838.3" r="5.5" fill="#2ca02c"/>
<circle cx="339.96" cy="838.3" r="10.5" fill="#fff"/><circle cx="339.96" cy="838.3" r="5.5" fill="#2ca02c"/>
<circle cx="344.24" cy="838.3" r="10.5" fill="#fff"/><circle cx="344.24" cy="838.3" r="5.5" fill="#2ca02c"/>
<circle cx="348.52" cy="838.3" r="10.5" fill="#fff"/><circle cx="348.52" cy="838.3" r="5.5" fill="#2ca02c"/>
<circle cx="352.80" cy="838.3" r="10.5" fill="#fff"/><circle cx="352.80" cy="838.3" r="5.5" fill="#2ca02c"/>
<circle cx="357.08" cy="838.3" r="10.5" fill="#fff"/><circle cx="357.08" cy="838.3" r="5.5" fill="#2ca02c"/>
<circle cx="361.36" cy="838.3" r="10.5" fill="#fff"/><circle cx="361.36" cy="838.3" r="5.5" fill="#2ca02c"/>
<circle cx="365.64" cy="838.3" r="10.5" fill="#fff"/><circle cx="365.64" cy="838.3" r="5.5" fill="#2ca02c"/>
<circle cx="369.92" cy="838.3" r="10.5" fill="#fff"/><circle cx="369.92" cy="838.3" r="5.5" fill="#2ca02c"/>
<circle cx="374.20" cy="838.3" r="10.5" fill="#fff"/><circle cx="374.20" cy="838.3" r="5.5" fill="#2ca02c"/>
<circle cx="378.48" cy="838.3" r="10.5" fill="#fff"/><circle cx="378.48" cy="838.3" r="5.5" fill="#2ca02c"/>
<circle cx="382.76" cy="838.3" r="10.5" fill="#fff"/><circle cx="382.76" cy="838.3" r="5.5" fill="#2ca02c"/>
<circle cx="387.04" cy="838.3" r="10.5" fill="#fff"/><circle cx="387.04" cy="838.3" r="5.5" fill="#2ca02c"/>
<circle cx="391.32" cy="838.3" r="10.5" fill="#fff"/><circle cx="391.32" cy="838.3" r="5.5" fill="#2ca02c"/>
<circle cx="395.60" cy="838.3" r="10.5" fill="#fff"/><circle cx="395.60" cy="838.3" r="5.5" fill="#2ca02c"/>
<circle cx="399.88" cy="838.3" r="10.5" fill="#fff"/><circle cx="399.88" cy="838.3" r="5.5" fill="#2ca02c"/>
<circle cx="404.16" cy="838.3" r="10.5" fill="#fff"/><circle cx="404.16" cy="838.3" r="5.5" fill="#2ca02c"/>
<circle cx="408.44" cy="838.3" r="10.5" fill="#fff"/><circle cx="408.44" cy="838.3" r="5.5" fill="#2ca02c"/>
<circle cx="412.72" cy="838.3" r="10.5" fill="#fff"/><circle cx="412.72" cy="838.3" r="5.5" fill="#2ca02c"/>
<circle cx="417.00" cy="838.3" r="10.5" fill="#fff"/><circle cx="417.00" cy="838.3" r="5.5" fill="#2ca02c"/>
<circle cx="421.28" cy="838.3" r="10.5" fill="#fff"/><circle cx="421.28" cy="838.3" r="5.5" fill="#2ca02c"/>
<circle cx="425.56" cy="838.3" r="10.5" fill="#fff"/><circle cx="425.56" cy="838.3" r="5.5" fill="#2ca02c"/>
<circle cx="429.84" cy="838.3" r="10.5" fill="#fff"/><circle cx="429.84" cy="838.3" r="5.5" fill="#2ca02c"/>
<circle cx="434.12" cy="838.3" r="10.5" fill="#fff"/><circle cx="434.12" cy="838.3" r="5.5" fill="#2ca02c"/>
<circle cx="438.40" cy="838.3" r="10.5" fill="#fff"/><circle cx="438.40" cy="838.3" r="5.5" fill="#2ca02c"/>
<circle cx="442.68" cy="838.3" r="10.5" fill="#fff"/><circle cx="442.68" cy="838.3" r="5.5" fill="#2ca02c"/>
<circle cx="446.96" cy="838.3" r="10.5" fill="#fff"/><circle cx="446.96" cy="838.3" r="5.5" fill="#2ca02c"/>
<circle cx="451.24" cy="838.3" r="10.5" fill="#fff"/><circle cx="451.24" cy="838.3" r="5.5" fill="#2ca02c"/>
<circle cx="455.52" cy="838.3" r="10.5" fill="#fff"/><circle cx="455.52" cy="838.3" r="5.5" fill="#2ca02c"/>
<circle cx="459.80" cy="838.3" r="10.5" fill="#fff"/><circle cx="459.80" cy="838.3" r="5.5" fill="#2ca02c"/>
<circle cx="464.08" cy="838.3" r="10.5" fill="#fff"/><circle cx="464.08" cy="838.3" r="5.5" fill="#2ca02c"/>
<circle cx="468.36" cy="838.3" r="10.5" fill="#fff"/><circle cx="468.36" cy="838.3" r="5.5" fill="#2ca02c"/>
<circle cx="472.64" cy="838.3" r="10.5" fill="#fff"/><circle cx="472.64" cy="838.3" r="5.5" fill="#2ca02c"/>
<circle cx="476.92" cy="838.3" r="10.5" fill="#fff"/><circle cx="476.92" cy="838.3" r="5.5" fill="#2ca02c"/>
<circle cx="481.20" cy="838.3" r="10.5" fill="#fff"/><circle cx="481.20" cy="838.3" r="5.5" fill="#2ca02c"/>
<circle cx="485.48" cy="838.3" r="10.5" fill="#fff"/><circle cx="485.48" cy="838.3" r="5.5" fill="#2ca02c"/>
<circle cx="489.76" cy="838.3" r="10.5" fill="#fff"/><circle cx="489.76" cy="838.3" r="5.5" fill="#2ca02c"/>
<circle cx="494.04" cy="838.3" r="10.5" fill="#fff"/><circle cx="494.04" cy="838.3" r="5.5" fill="#2ca02c"/>
<circle cx="498.32" cy="838.3" r="10.5" fill="#fff"/><circle cx="498.32" cy="838.3" r="5.5" fill="#2ca02c"/>
<circle cx="502.60" cy="838.3" r="10.5" fill="#fff"/><circle cx="502.60" cy="838.3" r="5.5" fill="#2ca02c"/>
<circle cx="506.88" cy="838.3" r="10.5" fill="#fff"/><circle cx="506.88" cy="838.3" r="5.5" fill="#2ca02c"/>
<circle cx="511.16" cy="838.3" r="10.5" fill="#fff"/><circle cx="511.16" cy="838.3" r="5.5" fill="#2ca02c"/>
<circle cx="515.44" cy="838.3" r="10.5" fill="#fff"/><circle cx="515.44" cy="838.3" r="5.5" fill="#2ca02c"/>
<circle cx="519.72" cy="838.3" r="10.5" fill="#fff"/><circle cx="519.72" cy="838.3" r="5.5" fill="#2ca02c"/>
<circle cx="524.00" cy="838.3" r="10.5" fill="#fff"/><circle cx="524.00" cy="838.3" r="5.5" fill="#2ca02c"/>
<circle cx="528.28" cy="838.3" r="10.5" fill="#fff"/><circle cx="528.28" cy="838.3" r="5.5" fill="#2ca02c"/>
<circle cx="532.56" cy="838.3" r="10.5" fill="#fff"/><circle cx="532.56" cy="838.3" r="5.5" fill="#2ca02c"/>
<circle cx="536.84" cy="838.3" r="10.5" fill="#fff"/><circle cx="536.84" cy="838.3" r="5.5" fill="#2ca02c"/>
<circle cx="541.12" cy="838.3" r="10.5" fill="#fff"/><circle cx="541.12" cy="838.3" r="5.5" fill="#2ca02c"/>
<circle cx="545.40" cy="838.3" r="10.5" fill="#fff"/><circle cx="545.40" cy="838.3" r="5.5" fill="#2ca02c"/>
<circle cx="549.68" cy="838.3" r="10.5" fill="#fff"/><circle cx="549.68" cy="838.3" r="5.5" fill="#2ca02c"/>
<circle cx="553.96" cy="838.3" r="10.5" fill="#fff"/><circle cx="553.96" cy="838.3" r="5.5" fill="#2ca02c"/>
<circle cx="558.24" cy="838.3" r="10.5" fill="#fff"/><circle cx="558.24" cy="838.3" r="5.5" fill="#2ca02c"/>
<circle cx="562.52" cy="838.3" r="10.5" fill="#fff"/><circle cx="562.52" cy="838.3" r="5.5" fill="#2ca02c"/>
<circle cx="566.80" cy="838.3" r="10.5" fill="#fff"/><circle cx="566.80" cy="838.3" r="5.5" fill="#2ca02c"/>
<circle cx="571.08" cy="838.3" r="10.5" fill="#fff"/><circle cx="571.08" cy="838.3" r="5.5" fill="#2ca02c"/>
<circle cx="575.36" cy="838.3" r="10.5" fill="#fff"/><circle cx="575.36" cy="838.3" r="5.5" fill="#2ca02c"/>
<circle cx="579.64" cy="838.3" r="10.5" fill="#fff"/><circle cx="579.64" cy="838.3" r="5.5" fill="#2ca02c"/>
<circle cx="583.92" cy="838.3" r="10.5" fill="#fff"/><circle cx="583.92" cy="838.3" r="5.5" fill="#2ca02c"/>
<circle cx="588.20" cy="838.3" r="10.5" fill="#fff"/><circle cx="588.20" cy="838.3" r="5.5" fill="#2ca02c"/>
<circle cx="592.48" cy="838.3" r="10.5" fill="#fff"/><circle cx="592.48" cy="838.3" r="5.5" fill="#2ca02c"/>
<circle cx="596.76" cy="838.3" r="10.5" fill="#fff"/><circle cx="596.76" cy="838.3" r="5.5" fill="#2ca02c"/>
<circle cx="601.04" cy="838.3" r="10.5" fill="#fff"/><circle cx="601.04" cy="838.3" r="5.5" fill="#2ca02c"/>
<circle cx="605.32" cy="838.3" r="10.5" fill="#fff"/><circle cx="605.32" cy="838.3" r="5.5" fill="#2ca02c"/>
<circle cx="609.60" cy="838.3" r="10.5" fill="#fff"/><circle cx="609.60" cy="838.3" r="5.5" fill="#2ca02c"/>
<circle cx="613.88" cy="838.3" r="10.5" fill="#fff"/><circle cx="613.88" cy="838.3" r="5.5" fill="#2ca02c"/>
<circle cx="618.16" cy="838.3" r="10.5" fill="#fff"/><circle cx="618.16" cy="838.3" r="5.5" fill="#2ca02c"/>
<circle cx="622.44" cy="838.3" r="10.5" fill="#fff"/><circle cx="622.44" cy="838.3" r="5.5" fill="#2ca02c"/>
<circle cx="626.72" cy="838.3" r="10.5" fill="#fff"/><circle cx="626.72" cy="838.3" r="5.5" fill="#2ca02c"/>
<circle cx="631.00" cy="838.3" r="10.5" fill="#fff"/><circle cx="631.00" cy="838.3" r="5.5" fill="#2ca02c"/>
<circle cx="635.28" cy="838.3" r="10.5" fill="#fff"/><circle cx="635.28" cy="838.3" r="5.5" fill="#2ca02c"/>
<circle cx="639.56" cy="838.3" r="10.5" fill="#fff"/><circle cx="639.56" cy="838.3" r="5.5" fill="#2ca02c"/>
<circle cx="643.84" cy="838.3" r="10.5" fill="#fff"/><circle cx="643.84" cy="838.3" r="5.5" fill="#2ca02c"/>
<circle cx="648.12" cy="838.3" r="10.5" fill="#fff"/><circle cx="648.12" cy="838.3" r="5.5" fill="#2ca02c"/>
<circle cx="652.40" cy="838.3" r="10.5" fill="#fff"/><circle cx="652.40" cy="838.3" r="5.5" fill="#2ca02c"/>
<circle cx="656.68" cy="838.3" r="10.5" fill="#fff"/><circle cx="656.68" cy="838.3" r="5.5" fill="#2ca02c"/>
<circle cx="660.96" cy="838.3" r="10.5" fill="#fff"/><circle cx="660.96" cy="838.3" r="5.5" fill="#2ca02c"/>
<circle cx="665.24" cy="838.3" r="10.5" fill="#fff"/><circle cx="665.24" cy="838.3" r="5.5" fill="#2ca02c"/>
<circle cx="669.52" cy="838.3" r="10.5" fill="#fff"/><circle cx="669.52" cy="838.3" r="5.5" fill="#2ca02c"/>
<circle cx="673.80" cy="838.3" r="10.5" fill="#fff"/><circle cx="673.80" cy="838.3" r="5.5" fill="#2ca02c"/>
<circle cx="678.08" cy="838.3" r="10.5" fill="#fff"/><circle cx="678.08" cy="838.3" r="5.5" fill="#2ca02c"/>
<circle cx="682.36" cy="838.3" r="10.5" fill="#fff"/><circle cx="682.36" cy="838.3" r="5.5" fill="#2ca02c"/>
<circle cx="686.64" cy="838.3" r="10.5" fill="#fff"/><circle cx="686.64" cy="838.3" r="5.5" fill="#2ca02c"/>
<circle cx="690.92" cy="838.3" r="10.5" fill="#fff"/><circle cx="690.92" cy="838.3" r="5.5" fill="#2ca02c"/>
<circle cx="695.20" cy="838.3" r="10.5" fill="#fff"/><circle cx="695.20" cy="838.3" r="5.5" fill="#2ca02c"/>
<circle cx="699.48" cy="838.3" r="10.5" fill="#fff"/><circle cx="699.48" cy="838.3" r="5.5" fill="#2ca02c"/>
<circle cx="703.76" cy="838.3" r="10.5" fill="#fff"/><circle cx="703.76" cy="838.3" r="5.5" fill="#2ca02c"/>
<circle cx="708.04" cy="838.3" r="10.5" fill="#fff"/><circle cx="708.04" cy="838.3" r="5.5" fill="#2ca02c"/>
<circle cx="712.32" cy="838.3" r="10.5" fill="#fff"/><circle cx="712.32" cy="838.3" r="5.5" fill="#2ca02c"/>
<circle cx="716.60" cy="838.3" r="10.5" fill="#fff"/><circle cx="716.60" cy="838.3" r="5.5" fill="#2ca02c"/>
<circle cx="720.88" cy="838.3" r="10.5" fill="#fff"/><circle cx="720.88" cy="838.3" r="5.5" fill="#2ca02c"/>
<circle cx="725.16" cy="838.3" r="10.5" fill="#fff"/><circle cx="725.16" cy="838.3" r="5.5" fill="#2ca02c"/>
<circle cx="729.44" cy="838.3" r="10.5" fill="#fff"/><circle cx="729.44" cy="838.3" r="5.5" fill="#2ca02c"/>
<circle cx="733.72" cy="838.3" r="10.5" fill="#fff"/><circle cx="733.72" cy="838.3" r="5.5" fill="#2ca02c"/>
<circle cx="738.00" cy="838.3" r="10.5" fill="#fff"/><circle cx="738.00" cy="838.3" r="5.5" fill="#2ca02c"/>
<circle cx="742.28" cy="838.3" r="10.5" fill="#fff"/><circle cx="742.28" cy="838.3" r="5.5" fill="#2ca02c"/>
<circle cx="746.56" cy="838.3" r="10.5" fill="#fff"/><circle cx="746.56" cy="838.3" r="5.5" fill="#2ca02c"/>
<circle cx="750.84" cy="838.3" r="10.5" fill="#fff"/><circle cx="750.84" cy="838.3" r="5.5" fill="#2ca02c"/>
<circle cx="755.12" cy="838.3" r="10.5" fill="#fff"/><circle cx="755.12" cy="838.3" r="5.5" fill="#2ca02c"/>
<circle cx="759.40" cy="838.3" r="10.5" fill="#fff"/><circle cx="759.40" cy="838.3" r="5.5" fill="#2ca02c"/>
<circle cx="763.68" cy="838.3" r="10.5" fill="#fff"/><circle cx="763.68" cy="838.3" r="5.5" fill="#2ca02c"/>
<circle cx="767.96" cy="838.3" r="10.5" fill="#fff"/><circle cx="767.96" cy="838.3" r="5.5" fill="#2ca02c"/>
<circle cx="772.24" cy="838.3" r="10.5" fill="#fff"/><circle cx="772.24" cy="838.3" r="5.5" fill="#2ca02c"/>
<circle cx="776.52" cy="838.3" r="10.5" fill="#fff"/><circle cx="776.52" cy="838.3" r="5.5" fill="#2ca02c"/>
<circle cx="780.80" cy="838.3" r="10.5" fill="#fff"/><circle cx="780.80" cy="838.3" r="5.5" fill="#2ca02c"/>
<circle cx="785.08" cy="838.3" r="10.5" fill="#fff"/><circle cx="785.08" cy="838.3" r="5.5" fill="#2ca02c"/>
<circle cx="789.36" cy="838.3" r="10.5" fill="#fff"/><circle cx="789.36" cy="838.3" r="5.5" fill="#2ca02c"/>
<circle cx="793.64" cy="838.3" r="10.5" fill="#fff"/><circle cx="793.64" cy="838.3" r="5.5" fill="#2ca02c"/>
<circle cx="797.92" cy="838.3" r="10.5" fill="#fff"/><circle cx="797.92" cy="838.3" r="5.5" fill="#2ca02c"/>
<circle cx="802.20" cy="838.3" r="10.5" fill="#fff"/><circle cx="802.20" cy="838.3" r="5.5" fill="#2ca02c"/>
<circle cx="806.48" cy="838.3" r="10.5" fill="#fff"/><circle cx="806.48" cy="838.3" r="5.5" fill="#2ca02c"/>
<circle cx="810.76" cy="838.3" r="10.5" fill="#fff"/><circle cx="810.76" cy="838.3" r="5.5" fill="#2ca02c"/>
<circle cx="815.04" cy="838.3" r="10.5" fill="#fff"/><circle cx="815.04" cy="838.3" r="5.5" fill="#2ca02c"/>
<circle cx="819.32" cy="838.3" r="10.5" fill="#fff"/><circle cx="819.32" cy="838.3" r="5.5" fill="#2ca02c"/>
<circle cx="823.60" cy="838.3" r="10.5" fill="#fff"/><circle cx="823.60" cy="838.3" r="5.5" fill="#2ca02c"/>
<circle cx="827.88" cy="838.3" r="10.5" fill="#fff"/><circle cx="827.88" cy="838.3" r="5.5" fill="#2ca02c"/>
<circle cx="832.16" cy="838.3" r="10.5" fill="#fff"/><circle cx="832.16" cy="838.3" r="5.5" fill="#2ca02c"/>
<circle cx="836.44" cy="838.3" r="10.5" fill="#fff"/><circle cx="836.44" cy="838.3" r="5.5" fill="#2ca02c"/>
<circle cx="840.72" cy="838.3" r="10.5" fill="#fff"/><circle cx="840.72" cy="838.3" r="5.5" fill="#2ca02c"/>
<circle cx="845.00" cy="838.3" r="10.5" fill="#fff"/><circle cx="845.00" cy="838.3" r="5.5" fill="#2ca02c"/>
<circle cx="849.28" cy="838.3" r="10.5" fill="#fff"/><circle cx="849.28" cy="838.3" r="5.5" fill="#2ca02c"/>
<circle cx="853.56" cy="838.3" r="10.5" fill="#fff"/><circle cx="853.56" cy="838.3" r="5.5" fill="#2ca02c"/>
<circle cx="857.84" cy="838.3" r="10.5" fill="#fff"/><circle cx="857.84" cy="838.3" r="5.5" fill="#2ca02c"/>
<circle cx="862.12" cy="838.3" r="10.5" fill="#fff"/><circle cx="862.12" cy="838.3" r="5.5" fill="#2ca02c"/>
<circle cx="866.40" cy="838.3" r="10.5" fill="#fff"/><circle cx="866.40" cy="838.3" r="5.5" fill="#2ca02c"/>
<circle cx="870.68" cy="838.3" r="10.5" fill="#fff"/><circle cx="870.68" cy="838.3" r="5.5" fill="#2ca02c"/>
<circle cx="874.96" cy="838.3" r="10.5" fill="#fff"/><circle cx="874.96" cy="838.3" r="5.5" fill="#2ca02c"/>
<circle cx="879.24" cy="838.3" r="10.5" fill="#fff"/><circle cx="879.24" cy="838.3" r="5.5" fill="#2ca02c"/>
<circle cx="883.52" cy="838.3" r="10.5" fill="#fff"/><circle cx="883.52" cy="838.3" r="5.5" fill="#2ca02c"/>
<circle cx="887.80" cy="838.3" r="10.5" fill="#fff"/><circle cx="887.80" cy="838.3" r="5.5" fill="#2ca02c"/>
<circle cx="892.08" cy="838.3" r="10.5" fill="#fff"/><circle cx="892.08" cy="838.3" r="5.5" fill="#2ca02c"/>
<circle cx="896.36" cy="838.3" r="10.5" fill="#fff"/><circle cx="896.36" cy="838.3" r="5.5" fill="#2ca02c"/>
<circle cx="900.64" cy="838.3" r="10.5" fill="#fff"/><circle cx="900.64" cy="838.3" r="5.5" fill="#2ca02c"/>
<circle cx="904.92" cy="838.3" r="10.5" fill="#fff"/><circle cx="904.92" cy="838.3" r="5.5" fill="#2ca02c"/>
<circle cx="909.20" cy="838.3" r="10.5" fill="#fff"/><circle cx="909.20" cy="838.3" r="5.5" fill="#2ca02c"/>
<circle cx="913.48" cy="838.3" r="10.5" fill="#fff"/><circle cx="913.48" cy="838.3" r="5.5" fill="#2ca02c"/>
<circle cx="917.76" cy="838.3" r="10.5" fill="#fff"/><circle cx="917.76" cy="838.3" r="5.5" fill="#2ca02c"/>
<circle cx="922.04" cy="838.3" r="10.5" fill="#fff"/><circle cx="922.04" cy="838.3" r="5.5" fill="#2ca02c"/>
<circle cx="926.32" cy="838.3" r="10.5" fill="#fff"/><circle cx="926.32" cy="838.3" r="5.5" fill="#2ca02c"/>
<circle cx="930.60" cy="838.3" r="10.5" fill="#fff"/><circle cx="930.60" cy="838.3" r="5.5" fill="#2ca02c"/>
<circle cx="934.88" cy="838.3" r="10.5" fill="#fff"/><circle cx="934.88" cy="838.3" r="5.5" fill="#2ca02c"/>
<circle cx="939.16" cy="838.3" r="10.5" fill="#fff"/><circle cx="939.16" cy="838.3" r="5.5" fill="#2ca02c"/>
<circle cx="943.44" cy="838.3" r="10.5" fill="#fff"/><circle cx="943.44" cy="838.3" r="5.5" fill="#2ca02c"/>
<circle cx="947.72" cy="838.3" r="10.5" fill="#fff"/><circle cx="947.72" cy="838.3" r="5.5" fill="#2ca02c"/>
<circle cx="952.00" cy="838.3" r="10.5" fill="#fff"/><circle cx="952.00" cy="838.3" r="5.5" fill="#2ca02c"/>
<circle cx="956.28" cy="838.3" r="10.5" fill="#fff"/><circle cx="956.28" cy="838.3" r="5.5" fill="#2ca02c"/>
<path d="M92.05 833.71A8.0 8.0 0 0 0 92.05 842.89M104.89 833.71A8.0 8.0 0 0 0 104.89 842.89M122.01 833.71A8.0 8.0 0 0 0 122.01 842.89M134.85 833.71A8.0 8.0 0 0 0 134.85 842.89M151.97 833.71A8.0 8.0 0 0 0 151.97 842.89M169.09 833.71A8.0 8.0 0 0 0 169.09 842.89M181.93 833.71A8.0 8.0 0 0 0 181.93 842.89M199.05 833.71A8.0 8.0 0 0 0 199.05 842.89M211.89 833.71A8.0 8.0 0 0 0 211.89 842.89M229.01 833.71A8.0 8.0 0 0 0 229.01 842.89M241.85 833.71A8.0 8.0 0 0 0 241.85 842.89M258.97 833.71A8.0 8.0 0 0 0 258.97 842.89M276.09 833.71A8.0 8.0 0 0 0 276.09 842.89M288.93 833.71A8.0 8.0 0 0 0 288.93 842.89M306.05 833.71A8.0 8.0 0 0 0 306.05 842.89M318.89 833.71A8.0 8.0 0 0 0 318.89 842.89M336.01 833.71A8.0 8.0 0 0 0 336.01 842.89M348.85 833.71A8.0 8.0 0 0 0 348.85 842.89M365.97 833.71A8.0 8.0 0 0 0 365.97 842.89M383.09 833.71A8.0 8.0 0 0 0 383.09 842.89M395.93 833.71A8.0 8.0 0 0 0 395.93 842.89M413.05 833.71A8.0 8.0 0 0 0 413.05 842.89M425.89 833.71A8.0 8.0 0 0 0 425.89 842.89M443.01 833.71A8.0 8.0 0 0 0 443.01 842.89M455.85 833.71A8.0 8.0 0 0 0 455.85 842.89M472.97 833.71A8.0 8.0 0 0 0 472.97 842.89M490.09 833.71A8.0 8.0 0 0 0 490.09 842.89M502.93 833.71A8.0 8.0 0 0 0 502.93 842.89M520.05 833.71A8.0 8.0 0 0 0 520.05 842.89M532.89 833.71A8.0 8.0 0 0 0 532.89 842.89M550.01 833.71A8.0 8.0 0 0 0 550.01 842.89M562.85 833.71A8.0 8.0 0 0 0 562.85 842.89M579.97 833.71A8.0 8.0 0 0 0 579.97 842.89M597.09 833.71A8.0 8.0 0 0 0 597.09 842.89M609.93 833.71A8.0 8.0 0 0 0 609.93 842.89M627.05 833.71A8.0 8.0 0 0 0 627.05 842.89M639.89 833.71A8.0 8.0 0 0 0 639.89 842.89M657.01 833.71A8.0 8.0 0 0 0 657.01 842.89M669.85 833.71A8.0 8.0 0 0 0 669.85 842.89M686.97 833.71A8.0 8.0 0 0 0 686.97 842.89M704.09 833.71A8.0 8.0 0 0 0 704.09 842.89M716.93 833.71A8.0 8.0 0 0 0 716.93 842.89M734.05 833.71A8.0 8.0 0 0 0 734.05 842.89M746.89 833.71A8.0 8.0 0 0 0 746.89 842.89M764.01 833.71A8.0 8.0 0 0 0 764.01 842.89M776.85 833.71A8.0 8.0 0 0 0 776.85 842.89M793.97 833.71A8.0 8.0 0 0 0 793.97 842.89M811.09 833.71A8.0 8.0 0 0 0 811.09 842.89M823.93 833.71A8.0 8.0 0 0 0 823.93 842.89M841.05 833.71A8.0 8.0 0 0 0 841.05 842.89M853.89 833.71A8.0 8.0 0 0 0 853.89 842.89M871.01 833.71A8.0 8.0 0 0 0 871.01 842.89M883.85 833.71A8.0 8.0 0 0 0 883.85 842.89M900.97 833.71A8.0 8.0 0 0 0 900.97 842.89M918.09 833.71A8.0 8.0 0 0 0 918.09 842.89M930.93 833.71A8.0 8.0 0 0 0 930.93 842.89M948.05 833.71A8.0 8.0 0 0 0 948.05 842.89" stroke="#2ca02c" stroke-width="0.8" stroke-opacity="0.45" fill="none"/>
<path d="M95.5 57.5V838.5H1165.5" stroke="#000" stroke-width="1" fill="none"/>
<g style="filter:grayscale(1)">
<text x="86.30" y="844.10" font-size="16.8" text-anchor="end" textLength="10.18" lengthAdjust="spacingAndGlyphs" style="white-space:pre">0</text>
<text x="86.30" y="746.49" font-size="16.8" text-anchor="end" textLength="30.54" lengthAdjust="spacingAndGlyphs" style="white-space:pre">500</text>
<text x="86.30" y="648.88" font-size="16.8" text-anchor="end" textLength="40.72" lengthAdjust="spacingAndGlyphs" style="white-space:pre">1000</text>
<text x="86.30" y="551.27" font-size="16.8" text-anchor="end" textLength="40.72" lengthAdjust="spacingAndGlyphs" style="white-space:pre">1500</text>
<text x="86.30" y="453.66" font-size="16.8" text-anchor="end" textLength="40.72" lengthAdjust="spacingAndGlyphs" style="white-space:pre">2000</text>
<text x="86.30" y="356.05" font-size="16.8" text-anchor="end" textLength="40.72" lengthAdjust="spacingAndGlyphs" style="white-space:pre">2500</text>
<text x="86.30" y="258.44" font-size="16.8" text-anchor="end" textLength="40.72" lengthAdjust="spacingAndGlyphs" style="white-space:pre">3000</text>
<text x="86.30" y="160.83" font-size="16.8" text-anchor="end" textLength="40.72" lengthAdjust="spacingAndGlyphs" style="white-space:pre">3500</text>
<text x="86.30" y="63.22" font-size="16.8" text-anchor="end" textLength="40.72" lengthAdjust="spacingAndGlyphs" style="white-space:pre">4000</text>
<text x="97.90" y="863.90" font-size="16.8" text-anchor="middle" textLength="10.18" lengthAdjust="spacingAndGlyphs" style="white-space:pre">0</text>
<text x="311.90" y="863.90" font-size="16.8" text-anchor="middle" textLength="20.36" lengthAdjust="spacingAndGlyphs" style="white-space:pre">50</text>
<text x="525.90" y="863.90" font-size="16.8" text-anchor="middle" textLength="30.54" lengthAdjust="spacingAndGlyphs" style="white-space:pre">100</text>
<text x="739.90" y="863.90" font-size="16.8" text-anchor="middle" textLength="30.54" lengthAdjust="spacingAndGlyphs" style="white-space:pre">150</text>
<text x="953.90" y="863.90" font-size="16.8" text-anchor="middle" textLength="30.54" lengthAdjust="spacingAndGlyphs" style="white-space:pre">200</text>
<text x="1167.90" y="863.90" font-size="16.8" text-anchor="middle" textLength="30.54" lengthAdjust="spacingAndGlyphs" style="white-space:pre">250</text>
<text x="630.80" y="892.20" font-size="16.8" text-anchor="middle" textLength="65.06" lengthAdjust="spacingAndGlyphs" style="white-space:pre">Time (s)</text>
<g transform="translate(24,448.6) rotate(-90)"><text x="0.00" y="0.00" font-size="16.8" text-anchor="middle" textLength="60.68" lengthAdjust="spacingAndGlyphs" style="white-space:pre">Packets</text></g>
<text x="33.80" y="34.90" font-size="16.8" text-anchor="start" textLength="334.41" lengthAdjust="spacingAndGlyphs" style="white-space:pre">/mnt/stor0/searchlight/corpus/experiment</text>
<text x="368.21" y="38.70" font-size="13.440000000000001" text-anchor="start" textLength="8.14" lengthAdjust="spacingAndGlyphs" style="white-space:pre">3</text>
<text x="376.36" y="34.90" font-size="16.8" text-anchor="start" textLength="41.83" lengthAdjust="spacingAndGlyphs" style="white-space:pre">/eth1</text>
<text x="418.19" y="38.70" font-size="13.440000000000001" text-anchor="start" textLength="3.56" lengthAdjust="spacingAndGlyphs" style="white-space:pre">i</text>
<text x="421.74" y="34.90" font-size="16.8" text-anchor="start" textLength="774.05" lengthAdjust="spacingAndGlyphs" style="white-space:pre">nterface/exp-c-720-hls-http2/1646778881-c0.caubryvid.hdumb.pharos-exp-c-720-hls-http2.pcap</text>
</g>
<g style="filter:grayscale(1)"><text x="1086.80" y="80.20" font-size="16.8" text-anchor="end" textLength="29.66" lengthAdjust="spacingAndGlyphs" style="white-space:pre">TCP</text></g>
<path d="M1097 74.4H1111.4M1131.6 74.4H1145.2" stroke="#0060ad" stroke-width="2.0"/>
<circle cx="1121.5" cy="74.4" r="5.5" fill="#0060ad"/>
<g style="filter:grayscale(1)"><text x="1086.80" y="99.30" font-size="16.8" text-anchor="end" textLength="33.68" lengthAdjust="spacingAndGlyphs" style="white-space:pre">UDP</text></g>
<path d="M1097 93.5H1111.4M1131.6 93.5H1145.2" stroke="#ff7f0e" stroke-width="2.0"/>
<circle cx="1121.5" cy="93.5" r="5.5" fill="#ff7f0e"/>
<g style="filter:grayscale(1)"><text x="1086.80" y="118.30" font-size="16.8" text-anchor="end" textLength="118.27" lengthAdjust="spacingAndGlyphs" style="white-space:pre">IP (!TCP  !UDP)</text></g>
<path d="M1097 112.5H1111.4M1131.6 112.5H1145.2" stroke="#2ca02c" stroke-width="2.0"/>
<circle cx="1121.5" cy="112.5" r="5.5" fill="#2ca02c"/>
</svg></body></html>
